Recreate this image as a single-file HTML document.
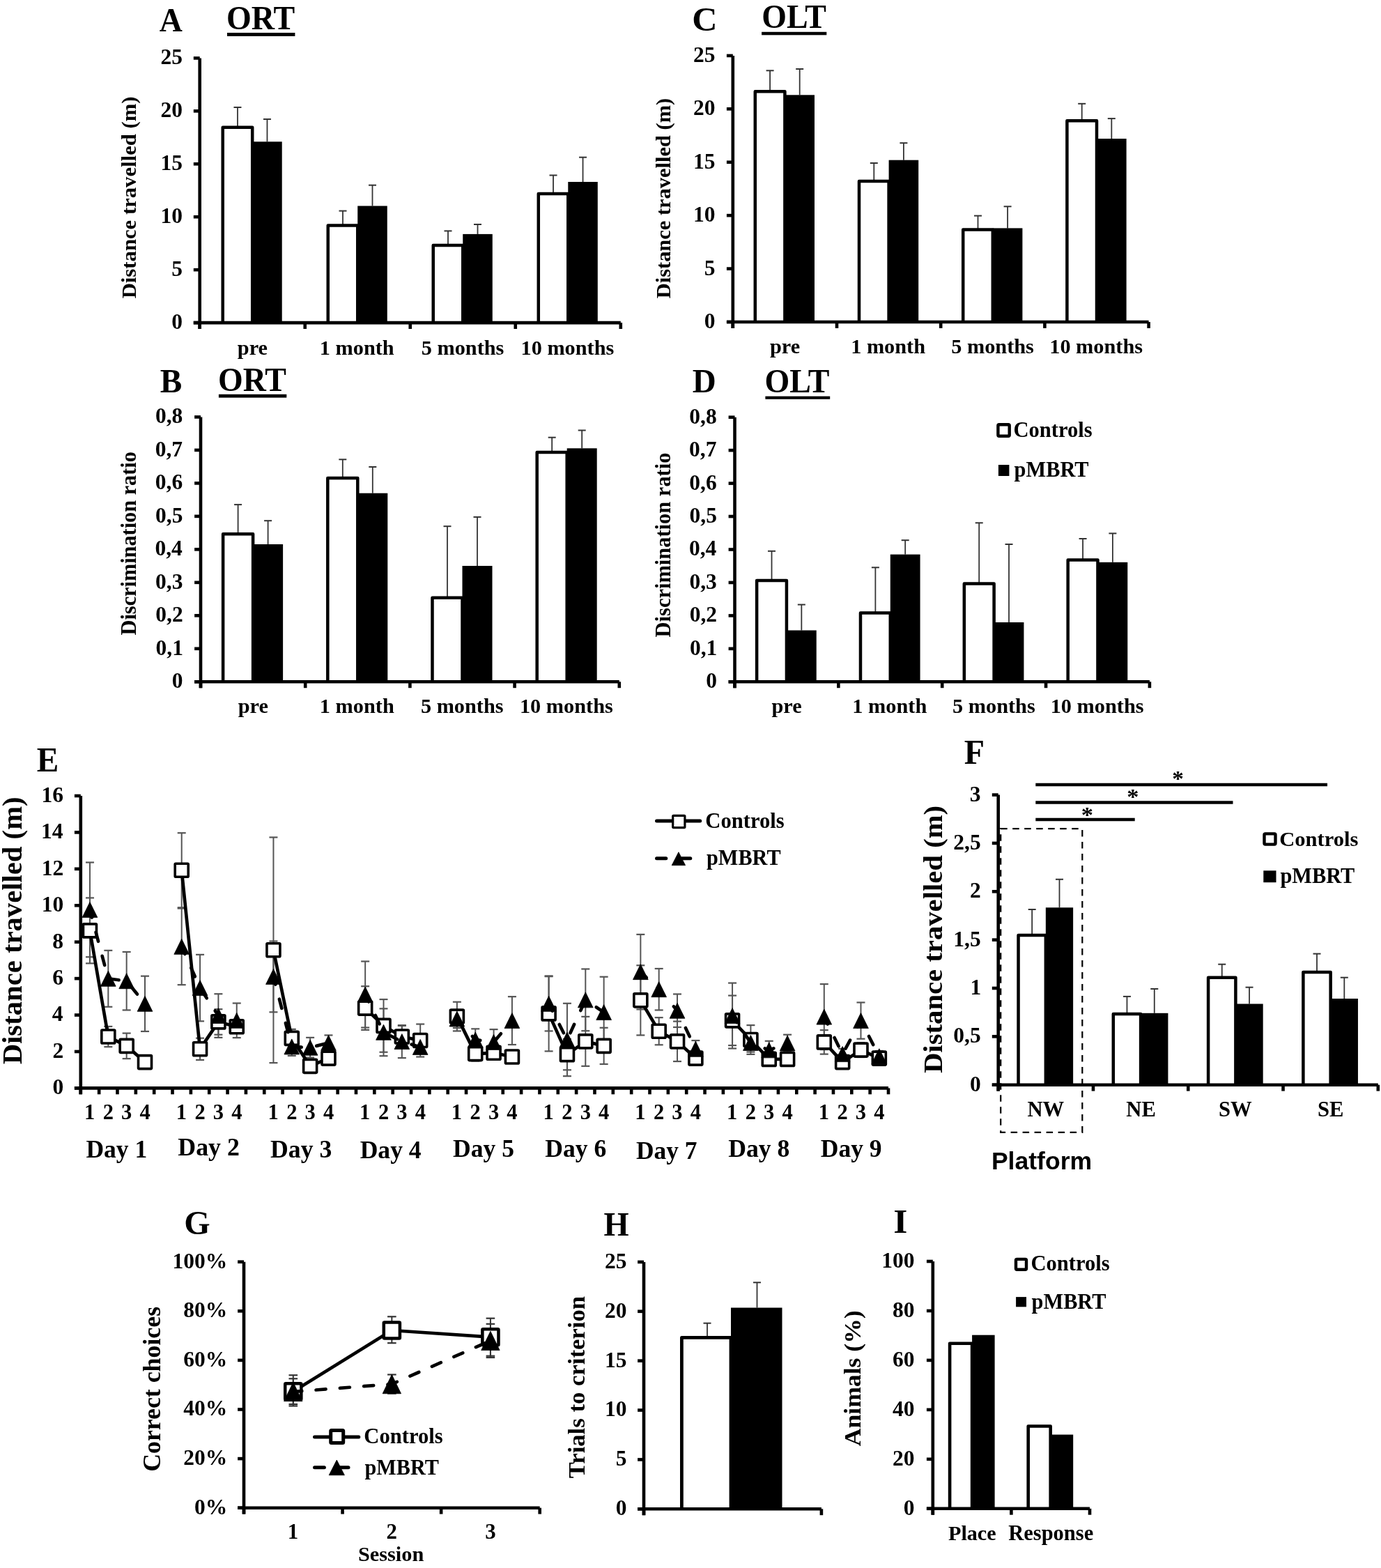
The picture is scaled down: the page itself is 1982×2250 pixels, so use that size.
<!DOCTYPE html>
<html><head><meta charset="utf-8"><title>Figure</title><style>
html,body{margin:0;padding:0;background:#fff;}
svg{display:block;}
text{font-weight:bold;fill:#000;}
</style></head><body>
<svg width="1982" height="2250" viewBox="0 0 1982 2250">
<rect width="1982" height="2250" fill="#fff"/>
<text transform="translate(228.74,44.8) scale(1,1.0781)" font-size="45.82" font-family='"Liberation Serif",serif'>A</text>
<text transform="translate(325,42.32) scale(1,1.0463)" font-size="46.05" font-family='"Liberation Serif",serif'>ORT</text>
<rect x="326" y="47" width="97.4" height="4.9" fill="#000"/>
<text transform="translate(194.63,428.34) rotate(-90) scale(1,0.9755)" font-size="30.72" font-family='"Liberation Serif",serif'>Distance travelled (m)</text>
<line x1="340.96" y1="154" x2="340.96" y2="182.8" stroke="#333" stroke-width="1.8" stroke-linecap="butt" />
<line x1="335.46" y1="154" x2="346.46" y2="154" stroke="#333" stroke-width="2" stroke-linecap="butt" />
<line x1="383.46" y1="171" x2="383.46" y2="203.3" stroke="#333" stroke-width="1.8" stroke-linecap="butt" />
<line x1="377.96" y1="171" x2="388.96" y2="171" stroke="#333" stroke-width="2" stroke-linecap="butt" />
<rect x="362.21" y="203.3" width="42.5" height="259.8" fill="#000"/>
<path d="M319.71,463.1 V182.8 H362.21 V463.1" fill="#fff" stroke="#000" stroke-width="4.5" stroke-linejoin="round"/>
<line x1="491.99" y1="302.6" x2="491.99" y2="323.4" stroke="#333" stroke-width="1.8" stroke-linecap="butt" />
<line x1="486.49" y1="302.6" x2="497.49" y2="302.6" stroke="#333" stroke-width="2" stroke-linecap="butt" />
<line x1="534.49" y1="265.7" x2="534.49" y2="295.5" stroke="#333" stroke-width="1.8" stroke-linecap="butt" />
<line x1="528.99" y1="265.7" x2="539.99" y2="265.7" stroke="#333" stroke-width="2" stroke-linecap="butt" />
<rect x="513.24" y="295.5" width="42.5" height="167.6" fill="#000"/>
<path d="M470.74,463.1 V323.4 H513.24 V463.1" fill="#fff" stroke="#000" stroke-width="4.5" stroke-linejoin="round"/>
<line x1="643.01" y1="331.4" x2="643.01" y2="351.9" stroke="#333" stroke-width="1.8" stroke-linecap="butt" />
<line x1="637.51" y1="331.4" x2="648.51" y2="331.4" stroke="#333" stroke-width="2" stroke-linecap="butt" />
<line x1="685.51" y1="322" x2="685.51" y2="335.9" stroke="#333" stroke-width="1.8" stroke-linecap="butt" />
<line x1="680.01" y1="322" x2="691.01" y2="322" stroke="#333" stroke-width="2" stroke-linecap="butt" />
<rect x="664.26" y="335.9" width="42.5" height="127.2" fill="#000"/>
<path d="M621.76,463.1 V351.9 H664.26 V463.1" fill="#fff" stroke="#000" stroke-width="4.5" stroke-linejoin="round"/>
<line x1="794.04" y1="251.5" x2="794.04" y2="278" stroke="#333" stroke-width="1.8" stroke-linecap="butt" />
<line x1="788.54" y1="251.5" x2="799.54" y2="251.5" stroke="#333" stroke-width="2" stroke-linecap="butt" />
<line x1="836.54" y1="225.7" x2="836.54" y2="261" stroke="#333" stroke-width="1.8" stroke-linecap="butt" />
<line x1="831.04" y1="225.7" x2="842.04" y2="225.7" stroke="#333" stroke-width="2" stroke-linecap="butt" />
<rect x="815.29" y="261" width="42.5" height="202.1" fill="#000"/>
<path d="M772.79,463.1 V278 H815.29 V463.1" fill="#fff" stroke="#000" stroke-width="4.5" stroke-linejoin="round"/>
<path d="M286.7,83.4 V472" stroke="#000" stroke-width="4.6" fill="none"/>
<line x1="277.8" y1="463.1" x2="286.7" y2="463.1" stroke="#000" stroke-width="4.6" stroke-linecap="butt" />
<line x1="277.8" y1="387.16" x2="286.7" y2="387.16" stroke="#000" stroke-width="4.6" stroke-linecap="butt" />
<line x1="277.8" y1="311.22" x2="286.7" y2="311.22" stroke="#000" stroke-width="4.6" stroke-linecap="butt" />
<line x1="277.8" y1="235.28" x2="286.7" y2="235.28" stroke="#000" stroke-width="4.6" stroke-linecap="butt" />
<line x1="277.8" y1="159.34" x2="286.7" y2="159.34" stroke="#000" stroke-width="4.6" stroke-linecap="butt" />
<line x1="277.8" y1="83.4" x2="286.7" y2="83.4" stroke="#000" stroke-width="4.6" stroke-linecap="butt" />
<line x1="277.8" y1="463.1" x2="890.8" y2="463.1" stroke="#000" stroke-width="4.6" stroke-linecap="butt" />
<line x1="286.7" y1="463.1" x2="286.7" y2="472" stroke="#000" stroke-width="4.6" stroke-linecap="butt" />
<line x1="437.72" y1="463.1" x2="437.72" y2="472" stroke="#000" stroke-width="4.6" stroke-linecap="butt" />
<line x1="588.75" y1="463.1" x2="588.75" y2="472" stroke="#000" stroke-width="4.6" stroke-linecap="butt" />
<line x1="739.77" y1="463.1" x2="739.77" y2="472" stroke="#000" stroke-width="4.6" stroke-linecap="butt" />
<line x1="890.8" y1="463.1" x2="890.8" y2="472" stroke="#000" stroke-width="4.6" stroke-linecap="butt" />
<text x="246.23" y="472.03" font-size="31.5" font-family='"Liberation Serif",serif'>0</text>
<text x="246.23" y="396.09" font-size="31.5" font-family='"Liberation Serif",serif'>5</text>
<text x="230.48" y="320.15" font-size="31.5" font-family='"Liberation Serif",serif'>10</text>
<text x="230.48" y="244.21" font-size="31.5" font-family='"Liberation Serif",serif'>15</text>
<text x="230.48" y="168.27" font-size="31.5" font-family='"Liberation Serif",serif'>20</text>
<text x="230.48" y="92.33" font-size="31.5" font-family='"Liberation Serif",serif'>25</text>
<text x="340.81" y="509" font-size="30.3" font-family='"Liberation Serif",serif'>pre</text>
<text x="458.81" y="509" font-size="30.3" font-family='"Liberation Serif",serif'>1 month</text>
<text x="604.69" y="509" font-size="30.3" font-family='"Liberation Serif",serif'>5 months</text>
<text x="747.53" y="509" font-size="30.3" font-family='"Liberation Serif",serif'>10 months</text>
<text transform="translate(993.19,44.32) scale(1,0.9647)" font-size="50.25" font-family='"Liberation Serif",serif'>C</text>
<text transform="translate(1093.31,40.42) scale(1,1.0403)" font-size="45.88" font-family='"Liberation Serif",serif'>OLT</text>
<rect x="1093.1" y="45.8" width="93.2" height="4.5" fill="#000"/>
<text transform="translate(961.85,428.33) rotate(-90) scale(1,0.9653)" font-size="30.48" font-family='"Liberation Serif",serif'>Distance travelled (m)</text>
<line x1="1105.1" y1="101.3" x2="1105.1" y2="131.3" stroke="#333" stroke-width="1.8" stroke-linecap="butt" />
<line x1="1099.6" y1="101.3" x2="1110.6" y2="101.3" stroke="#333" stroke-width="2" stroke-linecap="butt" />
<line x1="1147.7" y1="99" x2="1147.7" y2="136.3" stroke="#333" stroke-width="1.8" stroke-linecap="butt" />
<line x1="1142.2" y1="99" x2="1153.2" y2="99" stroke="#333" stroke-width="2" stroke-linecap="butt" />
<rect x="1126.4" y="136.3" width="42.6" height="325.7" fill="#000"/>
<path d="M1083.8,462 V131.3 H1126.4 V462" fill="#fff" stroke="#000" stroke-width="4.5" stroke-linejoin="round"/>
<line x1="1254.3" y1="234" x2="1254.3" y2="259.9" stroke="#333" stroke-width="1.8" stroke-linecap="butt" />
<line x1="1248.8" y1="234" x2="1259.8" y2="234" stroke="#333" stroke-width="2" stroke-linecap="butt" />
<line x1="1296.9" y1="205.2" x2="1296.9" y2="229.7" stroke="#333" stroke-width="1.8" stroke-linecap="butt" />
<line x1="1291.4" y1="205.2" x2="1302.4" y2="205.2" stroke="#333" stroke-width="2" stroke-linecap="butt" />
<rect x="1275.6" y="229.7" width="42.6" height="232.3" fill="#000"/>
<path d="M1233,462 V259.9 H1275.6 V462" fill="#fff" stroke="#000" stroke-width="4.5" stroke-linejoin="round"/>
<line x1="1403.5" y1="309.6" x2="1403.5" y2="329.6" stroke="#333" stroke-width="1.8" stroke-linecap="butt" />
<line x1="1398" y1="309.6" x2="1409" y2="309.6" stroke="#333" stroke-width="2" stroke-linecap="butt" />
<line x1="1446.1" y1="296.3" x2="1446.1" y2="327.4" stroke="#333" stroke-width="1.8" stroke-linecap="butt" />
<line x1="1440.6" y1="296.3" x2="1451.6" y2="296.3" stroke="#333" stroke-width="2" stroke-linecap="butt" />
<rect x="1424.8" y="327.4" width="42.6" height="134.6" fill="#000"/>
<path d="M1382.2,462 V329.6 H1424.8 V462" fill="#fff" stroke="#000" stroke-width="4.5" stroke-linejoin="round"/>
<line x1="1552.7" y1="148.8" x2="1552.7" y2="173.3" stroke="#333" stroke-width="1.8" stroke-linecap="butt" />
<line x1="1547.2" y1="148.8" x2="1558.2" y2="148.8" stroke="#333" stroke-width="2" stroke-linecap="butt" />
<line x1="1595.3" y1="170.1" x2="1595.3" y2="199" stroke="#333" stroke-width="1.8" stroke-linecap="butt" />
<line x1="1589.8" y1="170.1" x2="1600.8" y2="170.1" stroke="#333" stroke-width="2" stroke-linecap="butt" />
<rect x="1574" y="199" width="42.6" height="263" fill="#000"/>
<path d="M1531.4,462 V173.3 H1574 V462" fill="#fff" stroke="#000" stroke-width="4.5" stroke-linejoin="round"/>
<path d="M1051.8,79.9 V470.9" stroke="#000" stroke-width="4.6" fill="none"/>
<line x1="1042.9" y1="462" x2="1051.8" y2="462" stroke="#000" stroke-width="4.6" stroke-linecap="butt" />
<line x1="1042.9" y1="385.58" x2="1051.8" y2="385.58" stroke="#000" stroke-width="4.6" stroke-linecap="butt" />
<line x1="1042.9" y1="309.16" x2="1051.8" y2="309.16" stroke="#000" stroke-width="4.6" stroke-linecap="butt" />
<line x1="1042.9" y1="232.74" x2="1051.8" y2="232.74" stroke="#000" stroke-width="4.6" stroke-linecap="butt" />
<line x1="1042.9" y1="156.32" x2="1051.8" y2="156.32" stroke="#000" stroke-width="4.6" stroke-linecap="butt" />
<line x1="1042.9" y1="79.9" x2="1051.8" y2="79.9" stroke="#000" stroke-width="4.6" stroke-linecap="butt" />
<line x1="1042.9" y1="462" x2="1648.6" y2="462" stroke="#000" stroke-width="4.6" stroke-linecap="butt" />
<line x1="1051.8" y1="462" x2="1051.8" y2="470.9" stroke="#000" stroke-width="4.6" stroke-linecap="butt" />
<line x1="1201" y1="462" x2="1201" y2="470.9" stroke="#000" stroke-width="4.6" stroke-linecap="butt" />
<line x1="1350.2" y1="462" x2="1350.2" y2="470.9" stroke="#000" stroke-width="4.6" stroke-linecap="butt" />
<line x1="1499.4" y1="462" x2="1499.4" y2="470.9" stroke="#000" stroke-width="4.6" stroke-linecap="butt" />
<line x1="1648.6" y1="462" x2="1648.6" y2="470.9" stroke="#000" stroke-width="4.6" stroke-linecap="butt" />
<text x="1010.73" y="470.93" font-size="31.5" font-family='"Liberation Serif",serif'>0</text>
<text x="1010.73" y="394.51" font-size="31.5" font-family='"Liberation Serif",serif'>5</text>
<text x="994.98" y="318.09" font-size="31.5" font-family='"Liberation Serif",serif'>10</text>
<text x="994.98" y="241.67" font-size="31.5" font-family='"Liberation Serif",serif'>15</text>
<text x="994.98" y="165.25" font-size="31.5" font-family='"Liberation Serif",serif'>20</text>
<text x="994.98" y="88.83" font-size="31.5" font-family='"Liberation Serif",serif'>25</text>
<text x="1105" y="507" font-size="30.3" font-family='"Liberation Serif",serif'>pre</text>
<text x="1221.17" y="507" font-size="30.3" font-family='"Liberation Serif",serif'>1 month</text>
<text x="1365.22" y="507" font-size="30.3" font-family='"Liberation Serif",serif'>5 months</text>
<text x="1506.24" y="507" font-size="30.3" font-family='"Liberation Serif",serif'>10 months</text>
<text transform="translate(229.77,563.18) scale(1,1.0369)" font-size="47.23" font-family='"Liberation Serif",serif'>B</text>
<text transform="translate(313,560.82) scale(1,1.0561)" font-size="45.9" font-family='"Liberation Serif",serif'>ORT</text>
<rect x="313.9" y="565.8" width="97.4" height="4.8" fill="#000"/>
<text transform="translate(194.88,911.43) rotate(-90) scale(1,1.0623)" font-size="30.31" font-family='"Liberation Serif",serif'>Discrimination ratio</text>
<line x1="341.6" y1="724.1" x2="341.6" y2="766.3" stroke="#333" stroke-width="1.8" stroke-linecap="butt" />
<line x1="336.1" y1="724.1" x2="347.1" y2="724.1" stroke="#333" stroke-width="2" stroke-linecap="butt" />
<line x1="384.6" y1="747.2" x2="384.6" y2="781" stroke="#333" stroke-width="1.8" stroke-linecap="butt" />
<line x1="379.1" y1="747.2" x2="390.1" y2="747.2" stroke="#333" stroke-width="2" stroke-linecap="butt" />
<rect x="363.1" y="781" width="43" height="197.3" fill="#000"/>
<path d="M320.1,978.3 V766.3 H363.1 V978.3" fill="#fff" stroke="#000" stroke-width="4.5" stroke-linejoin="round"/>
<line x1="491.8" y1="659.3" x2="491.8" y2="685.9" stroke="#333" stroke-width="1.8" stroke-linecap="butt" />
<line x1="486.3" y1="659.3" x2="497.3" y2="659.3" stroke="#333" stroke-width="2" stroke-linecap="butt" />
<line x1="534.8" y1="670" x2="534.8" y2="707.7" stroke="#333" stroke-width="1.8" stroke-linecap="butt" />
<line x1="529.3" y1="670" x2="540.3" y2="670" stroke="#333" stroke-width="2" stroke-linecap="butt" />
<rect x="513.3" y="707.7" width="43" height="270.6" fill="#000"/>
<path d="M470.3,978.3 V685.9 H513.3 V978.3" fill="#fff" stroke="#000" stroke-width="4.5" stroke-linejoin="round"/>
<line x1="642" y1="755.2" x2="642" y2="857.8" stroke="#333" stroke-width="1.8" stroke-linecap="butt" />
<line x1="636.5" y1="755.2" x2="647.5" y2="755.2" stroke="#333" stroke-width="2" stroke-linecap="butt" />
<line x1="685" y1="741.9" x2="685" y2="812" stroke="#333" stroke-width="1.8" stroke-linecap="butt" />
<line x1="679.5" y1="741.9" x2="690.5" y2="741.9" stroke="#333" stroke-width="2" stroke-linecap="butt" />
<rect x="663.5" y="812" width="43" height="166.3" fill="#000"/>
<path d="M620.5,978.3 V857.8 H663.5 V978.3" fill="#fff" stroke="#000" stroke-width="4.5" stroke-linejoin="round"/>
<line x1="792.2" y1="627.7" x2="792.2" y2="649" stroke="#333" stroke-width="1.8" stroke-linecap="butt" />
<line x1="786.7" y1="627.7" x2="797.7" y2="627.7" stroke="#333" stroke-width="2" stroke-linecap="butt" />
<line x1="835.2" y1="617.5" x2="835.2" y2="643.3" stroke="#333" stroke-width="1.8" stroke-linecap="butt" />
<line x1="829.7" y1="617.5" x2="840.7" y2="617.5" stroke="#333" stroke-width="2" stroke-linecap="butt" />
<rect x="813.7" y="643.3" width="43" height="335" fill="#000"/>
<path d="M770.7,978.3 V649 H813.7 V978.3" fill="#fff" stroke="#000" stroke-width="4.5" stroke-linejoin="round"/>
<path d="M288,598.4 V987.2" stroke="#000" stroke-width="4.6" fill="none"/>
<line x1="279.1" y1="978.3" x2="288" y2="978.3" stroke="#000" stroke-width="4.6" stroke-linecap="butt" />
<line x1="279.1" y1="930.81" x2="288" y2="930.81" stroke="#000" stroke-width="4.6" stroke-linecap="butt" />
<line x1="279.1" y1="883.32" x2="288" y2="883.32" stroke="#000" stroke-width="4.6" stroke-linecap="butt" />
<line x1="279.1" y1="835.84" x2="288" y2="835.84" stroke="#000" stroke-width="4.6" stroke-linecap="butt" />
<line x1="279.1" y1="788.35" x2="288" y2="788.35" stroke="#000" stroke-width="4.6" stroke-linecap="butt" />
<line x1="279.1" y1="740.86" x2="288" y2="740.86" stroke="#000" stroke-width="4.6" stroke-linecap="butt" />
<line x1="279.1" y1="693.38" x2="288" y2="693.38" stroke="#000" stroke-width="4.6" stroke-linecap="butt" />
<line x1="279.1" y1="645.89" x2="288" y2="645.89" stroke="#000" stroke-width="4.6" stroke-linecap="butt" />
<line x1="279.1" y1="598.4" x2="288" y2="598.4" stroke="#000" stroke-width="4.6" stroke-linecap="butt" />
<line x1="279.1" y1="978.3" x2="888.8" y2="978.3" stroke="#000" stroke-width="4.6" stroke-linecap="butt" />
<line x1="288" y1="978.3" x2="288" y2="987.2" stroke="#000" stroke-width="4.6" stroke-linecap="butt" />
<line x1="438.2" y1="978.3" x2="438.2" y2="987.2" stroke="#000" stroke-width="4.6" stroke-linecap="butt" />
<line x1="588.4" y1="978.3" x2="588.4" y2="987.2" stroke="#000" stroke-width="4.6" stroke-linecap="butt" />
<line x1="738.6" y1="978.3" x2="738.6" y2="987.2" stroke="#000" stroke-width="4.6" stroke-linecap="butt" />
<line x1="888.8" y1="978.3" x2="888.8" y2="987.2" stroke="#000" stroke-width="4.6" stroke-linecap="butt" />
<text x="246.73" y="987.23" font-size="31.5" font-family='"Liberation Serif",serif'>0</text>
<text x="223.58" y="939.75" font-size="31.5" font-family='"Liberation Serif",serif'>0,1</text>
<text x="223.26" y="892.26" font-size="31.5" font-family='"Liberation Serif",serif'>0,2</text>
<text x="223.03" y="844.77" font-size="31.5" font-family='"Liberation Serif",serif'>0,3</text>
<text x="222.48" y="797.28" font-size="31.5" font-family='"Liberation Serif",serif'>0,4</text>
<text x="223.11" y="749.8" font-size="31.5" font-family='"Liberation Serif",serif'>0,5</text>
<text x="222.87" y="702.31" font-size="31.5" font-family='"Liberation Serif",serif'>0,6</text>
<text x="222.71" y="654.82" font-size="31.5" font-family='"Liberation Serif",serif'>0,7</text>
<text x="222.95" y="607.33" font-size="31.5" font-family='"Liberation Serif",serif'>0,8</text>
<text x="341.7" y="1023.4" font-size="30.3" font-family='"Liberation Serif",serif'>pre</text>
<text x="458.87" y="1023.4" font-size="30.3" font-family='"Liberation Serif",serif'>1 month</text>
<text x="603.92" y="1023.4" font-size="30.3" font-family='"Liberation Serif",serif'>5 months</text>
<text x="745.94" y="1023.4" font-size="30.3" font-family='"Liberation Serif",serif'>10 months</text>
<text transform="translate(993.68,563.28) scale(1,1.0285)" font-size="47.02" font-family='"Liberation Serif",serif'>D</text>
<text transform="translate(1097.5,562.92) scale(1,1.0424)" font-size="45.93" font-family='"Liberation Serif",serif'>OLT</text>
<rect x="1098.4" y="568.6" width="92.8" height="4.2" fill="#000"/>
<text transform="translate(962.49,914.43) rotate(-90) scale(1,1.0233)" font-size="30.49" font-family='"Liberation Serif",serif'>Discrimination ratio</text>
<line x1="1107.52" y1="790.8" x2="1107.52" y2="833" stroke="#333" stroke-width="1.8" stroke-linecap="butt" />
<line x1="1102.02" y1="790.8" x2="1113.02" y2="790.8" stroke="#333" stroke-width="2" stroke-linecap="butt" />
<line x1="1150.33" y1="867.6" x2="1150.33" y2="904.5" stroke="#333" stroke-width="1.8" stroke-linecap="butt" />
<line x1="1144.83" y1="867.6" x2="1155.83" y2="867.6" stroke="#333" stroke-width="2" stroke-linecap="butt" />
<rect x="1128.92" y="904.5" width="42.8" height="73.8" fill="#000"/>
<path d="M1086.12,978.3 V833 H1128.92 V978.3" fill="#fff" stroke="#000" stroke-width="4.5" stroke-linejoin="round"/>
<line x1="1256.38" y1="814.3" x2="1256.38" y2="879.6" stroke="#333" stroke-width="1.8" stroke-linecap="butt" />
<line x1="1250.88" y1="814.3" x2="1261.88" y2="814.3" stroke="#333" stroke-width="2" stroke-linecap="butt" />
<line x1="1299.18" y1="775.2" x2="1299.18" y2="795.6" stroke="#333" stroke-width="1.8" stroke-linecap="butt" />
<line x1="1293.68" y1="775.2" x2="1304.68" y2="775.2" stroke="#333" stroke-width="2" stroke-linecap="butt" />
<rect x="1277.78" y="795.6" width="42.8" height="182.7" fill="#000"/>
<path d="M1234.98,978.3 V879.6 H1277.78 V978.3" fill="#fff" stroke="#000" stroke-width="4.5" stroke-linejoin="round"/>
<line x1="1405.22" y1="750.3" x2="1405.22" y2="837.4" stroke="#333" stroke-width="1.8" stroke-linecap="butt" />
<line x1="1399.72" y1="750.3" x2="1410.72" y2="750.3" stroke="#333" stroke-width="2" stroke-linecap="butt" />
<line x1="1448.03" y1="781" x2="1448.03" y2="893" stroke="#333" stroke-width="1.8" stroke-linecap="butt" />
<line x1="1442.53" y1="781" x2="1453.53" y2="781" stroke="#333" stroke-width="2" stroke-linecap="butt" />
<rect x="1426.62" y="893" width="42.8" height="85.3" fill="#000"/>
<path d="M1383.83,978.3 V837.4 H1426.62 V978.3" fill="#fff" stroke="#000" stroke-width="4.5" stroke-linejoin="round"/>
<line x1="1554.08" y1="773" x2="1554.08" y2="803.6" stroke="#333" stroke-width="1.8" stroke-linecap="butt" />
<line x1="1548.58" y1="773" x2="1559.58" y2="773" stroke="#333" stroke-width="2" stroke-linecap="butt" />
<line x1="1596.88" y1="765.4" x2="1596.88" y2="806.8" stroke="#333" stroke-width="1.8" stroke-linecap="butt" />
<line x1="1591.38" y1="765.4" x2="1602.38" y2="765.4" stroke="#333" stroke-width="2" stroke-linecap="butt" />
<rect x="1575.48" y="806.8" width="42.8" height="171.5" fill="#000"/>
<path d="M1532.68,978.3 V803.6 H1575.48 V978.3" fill="#fff" stroke="#000" stroke-width="4.5" stroke-linejoin="round"/>
<path d="M1054.5,598.7 V987.2" stroke="#000" stroke-width="4.6" fill="none"/>
<line x1="1045.6" y1="978.3" x2="1054.5" y2="978.3" stroke="#000" stroke-width="4.6" stroke-linecap="butt" />
<line x1="1045.6" y1="930.85" x2="1054.5" y2="930.85" stroke="#000" stroke-width="4.6" stroke-linecap="butt" />
<line x1="1045.6" y1="883.4" x2="1054.5" y2="883.4" stroke="#000" stroke-width="4.6" stroke-linecap="butt" />
<line x1="1045.6" y1="835.95" x2="1054.5" y2="835.95" stroke="#000" stroke-width="4.6" stroke-linecap="butt" />
<line x1="1045.6" y1="788.5" x2="1054.5" y2="788.5" stroke="#000" stroke-width="4.6" stroke-linecap="butt" />
<line x1="1045.6" y1="741.05" x2="1054.5" y2="741.05" stroke="#000" stroke-width="4.6" stroke-linecap="butt" />
<line x1="1045.6" y1="693.6" x2="1054.5" y2="693.6" stroke="#000" stroke-width="4.6" stroke-linecap="butt" />
<line x1="1045.6" y1="646.15" x2="1054.5" y2="646.15" stroke="#000" stroke-width="4.6" stroke-linecap="butt" />
<line x1="1045.6" y1="598.7" x2="1054.5" y2="598.7" stroke="#000" stroke-width="4.6" stroke-linecap="butt" />
<line x1="1045.6" y1="978.3" x2="1649.9" y2="978.3" stroke="#000" stroke-width="4.6" stroke-linecap="butt" />
<line x1="1054.5" y1="978.3" x2="1054.5" y2="987.2" stroke="#000" stroke-width="4.6" stroke-linecap="butt" />
<line x1="1203.35" y1="978.3" x2="1203.35" y2="987.2" stroke="#000" stroke-width="4.6" stroke-linecap="butt" />
<line x1="1352.2" y1="978.3" x2="1352.2" y2="987.2" stroke="#000" stroke-width="4.6" stroke-linecap="butt" />
<line x1="1501.05" y1="978.3" x2="1501.05" y2="987.2" stroke="#000" stroke-width="4.6" stroke-linecap="butt" />
<line x1="1649.9" y1="978.3" x2="1649.9" y2="987.2" stroke="#000" stroke-width="4.6" stroke-linecap="butt" />
<text x="1013.13" y="987.23" font-size="31.5" font-family='"Liberation Serif",serif'>0</text>
<text x="989.98" y="939.78" font-size="31.5" font-family='"Liberation Serif",serif'>0,1</text>
<text x="989.66" y="892.33" font-size="31.5" font-family='"Liberation Serif",serif'>0,2</text>
<text x="989.43" y="844.88" font-size="31.5" font-family='"Liberation Serif",serif'>0,3</text>
<text x="988.88" y="797.43" font-size="31.5" font-family='"Liberation Serif",serif'>0,4</text>
<text x="989.51" y="749.98" font-size="31.5" font-family='"Liberation Serif",serif'>0,5</text>
<text x="989.27" y="702.53" font-size="31.5" font-family='"Liberation Serif",serif'>0,6</text>
<text x="989.11" y="655.08" font-size="31.5" font-family='"Liberation Serif",serif'>0,7</text>
<text x="989.35" y="607.63" font-size="31.5" font-family='"Liberation Serif",serif'>0,8</text>
<text x="1107.53" y="1023.3" font-size="30.3" font-family='"Liberation Serif",serif'>pre</text>
<text x="1223.35" y="1023.3" font-size="30.3" font-family='"Liberation Serif",serif'>1 month</text>
<text x="1367.05" y="1023.3" font-size="30.3" font-family='"Liberation Serif",serif'>5 months</text>
<text x="1507.72" y="1023.3" font-size="30.3" font-family='"Liberation Serif",serif'>10 months</text>
<rect x="1432.4" y="609.2" width="16.3" height="16.5" rx="1.5" fill="#fff" stroke="#000" stroke-width="4.4"/>
<rect x="1432.9" y="667" width="15.5" height="16" fill="#000"/>
<text x="1454.47" y="626.9" font-size="30.58" font-family='"Liberation Serif",serif'>Controls</text>
<text transform="translate(1455.62,683.68) scale(1,1.0199)" font-size="30.36" font-family='"Liberation Serif",serif'>pMBRT</text>
<text transform="translate(52.77,1106.7) scale(1,1.0513)" font-size="47.2" font-family='"Liberation Serif",serif'>E</text>
<text transform="translate(30.62,1527.31) rotate(-90) scale(1,0.9697)" font-size="40.68" font-family='"Liberation Serif",serif'>Distance travelled (m)</text>
<line x1="128.97" y1="1288.42" x2="128.97" y2="1382.38" stroke="#555" stroke-width="2" stroke-linecap="butt" />
<line x1="122.97" y1="1288.42" x2="134.97" y2="1288.42" stroke="#555" stroke-width="2.2" stroke-linecap="butt" />
<line x1="122.97" y1="1382.38" x2="134.97" y2="1382.38" stroke="#555" stroke-width="2.2" stroke-linecap="butt" />
<line x1="128.97" y1="1237.52" x2="128.97" y2="1373.24" stroke="#555" stroke-width="2" stroke-linecap="butt" />
<line x1="122.97" y1="1237.52" x2="134.97" y2="1237.52" stroke="#555" stroke-width="2.2" stroke-linecap="butt" />
<line x1="122.97" y1="1373.24" x2="134.97" y2="1373.24" stroke="#555" stroke-width="2.2" stroke-linecap="butt" />
<line x1="155.32" y1="1472.94" x2="155.32" y2="1502.18" stroke="#555" stroke-width="2" stroke-linecap="butt" />
<line x1="149.32" y1="1472.94" x2="161.32" y2="1472.94" stroke="#555" stroke-width="2.2" stroke-linecap="butt" />
<line x1="149.32" y1="1502.18" x2="161.32" y2="1502.18" stroke="#555" stroke-width="2.2" stroke-linecap="butt" />
<line x1="155.32" y1="1363.85" x2="155.32" y2="1444.76" stroke="#555" stroke-width="2" stroke-linecap="butt" />
<line x1="149.32" y1="1363.85" x2="161.32" y2="1363.85" stroke="#555" stroke-width="2.2" stroke-linecap="butt" />
<line x1="149.32" y1="1444.76" x2="161.32" y2="1444.76" stroke="#555" stroke-width="2.2" stroke-linecap="butt" />
<line x1="181.66" y1="1482.6" x2="181.66" y2="1519.14" stroke="#555" stroke-width="2" stroke-linecap="butt" />
<line x1="175.66" y1="1482.6" x2="187.66" y2="1482.6" stroke="#555" stroke-width="2.2" stroke-linecap="butt" />
<line x1="175.66" y1="1519.14" x2="187.66" y2="1519.14" stroke="#555" stroke-width="2.2" stroke-linecap="butt" />
<line x1="181.66" y1="1365.93" x2="181.66" y2="1449.45" stroke="#555" stroke-width="2" stroke-linecap="butt" />
<line x1="175.66" y1="1365.93" x2="187.66" y2="1365.93" stroke="#555" stroke-width="2.2" stroke-linecap="butt" />
<line x1="175.66" y1="1449.45" x2="187.66" y2="1449.45" stroke="#555" stroke-width="2.2" stroke-linecap="butt" />
<line x1="208.01" y1="1521.49" x2="208.01" y2="1526.71" stroke="#555" stroke-width="2" stroke-linecap="butt" />
<line x1="202.01" y1="1521.49" x2="214.01" y2="1521.49" stroke="#555" stroke-width="2.2" stroke-linecap="butt" />
<line x1="202.01" y1="1526.71" x2="214.01" y2="1526.71" stroke="#555" stroke-width="2.2" stroke-linecap="butt" />
<line x1="208.01" y1="1400.65" x2="208.01" y2="1479.99" stroke="#555" stroke-width="2" stroke-linecap="butt" />
<line x1="202.01" y1="1400.65" x2="214.01" y2="1400.65" stroke="#555" stroke-width="2.2" stroke-linecap="butt" />
<line x1="202.01" y1="1479.99" x2="214.01" y2="1479.99" stroke="#555" stroke-width="2.2" stroke-linecap="butt" />
<line x1="260.7" y1="1195.24" x2="260.7" y2="1302.25" stroke="#555" stroke-width="2" stroke-linecap="butt" />
<line x1="254.7" y1="1195.24" x2="266.7" y2="1195.24" stroke="#555" stroke-width="2.2" stroke-linecap="butt" />
<line x1="254.7" y1="1302.25" x2="266.7" y2="1302.25" stroke="#555" stroke-width="2.2" stroke-linecap="butt" />
<line x1="260.7" y1="1303.55" x2="260.7" y2="1413.17" stroke="#555" stroke-width="2" stroke-linecap="butt" />
<line x1="254.7" y1="1303.55" x2="266.7" y2="1303.55" stroke="#555" stroke-width="2.2" stroke-linecap="butt" />
<line x1="254.7" y1="1413.17" x2="266.7" y2="1413.17" stroke="#555" stroke-width="2.2" stroke-linecap="butt" />
<line x1="287.05" y1="1489.65" x2="287.05" y2="1520.97" stroke="#555" stroke-width="2" stroke-linecap="butt" />
<line x1="281.05" y1="1489.65" x2="293.05" y2="1489.65" stroke="#555" stroke-width="2.2" stroke-linecap="butt" />
<line x1="281.05" y1="1520.97" x2="293.05" y2="1520.97" stroke="#555" stroke-width="2.2" stroke-linecap="butt" />
<line x1="287.05" y1="1369.85" x2="287.05" y2="1465.37" stroke="#555" stroke-width="2" stroke-linecap="butt" />
<line x1="281.05" y1="1369.85" x2="293.05" y2="1369.85" stroke="#555" stroke-width="2.2" stroke-linecap="butt" />
<line x1="281.05" y1="1465.37" x2="293.05" y2="1465.37" stroke="#555" stroke-width="2.2" stroke-linecap="butt" />
<line x1="313.39" y1="1448.15" x2="313.39" y2="1484.69" stroke="#555" stroke-width="2" stroke-linecap="butt" />
<line x1="307.39" y1="1448.15" x2="319.39" y2="1448.15" stroke="#555" stroke-width="2.2" stroke-linecap="butt" />
<line x1="307.39" y1="1484.69" x2="319.39" y2="1484.69" stroke="#555" stroke-width="2.2" stroke-linecap="butt" />
<line x1="313.39" y1="1426.22" x2="313.39" y2="1488.86" stroke="#555" stroke-width="2" stroke-linecap="butt" />
<line x1="307.39" y1="1426.22" x2="319.39" y2="1426.22" stroke="#555" stroke-width="2.2" stroke-linecap="butt" />
<line x1="307.39" y1="1488.86" x2="319.39" y2="1488.86" stroke="#555" stroke-width="2.2" stroke-linecap="butt" />
<line x1="339.74" y1="1465.37" x2="339.74" y2="1481.03" stroke="#555" stroke-width="2" stroke-linecap="butt" />
<line x1="333.74" y1="1465.37" x2="345.74" y2="1465.37" stroke="#555" stroke-width="2.2" stroke-linecap="butt" />
<line x1="333.74" y1="1481.03" x2="345.74" y2="1481.03" stroke="#555" stroke-width="2.2" stroke-linecap="butt" />
<line x1="339.74" y1="1439.54" x2="339.74" y2="1489.12" stroke="#555" stroke-width="2" stroke-linecap="butt" />
<line x1="333.74" y1="1439.54" x2="345.74" y2="1439.54" stroke="#555" stroke-width="2.2" stroke-linecap="butt" />
<line x1="333.74" y1="1489.12" x2="345.74" y2="1489.12" stroke="#555" stroke-width="2.2" stroke-linecap="butt" />
<line x1="392.43" y1="1201.5" x2="392.43" y2="1525.14" stroke="#555" stroke-width="2" stroke-linecap="butt" />
<line x1="386.43" y1="1201.5" x2="398.43" y2="1201.5" stroke="#555" stroke-width="2.2" stroke-linecap="butt" />
<line x1="386.43" y1="1525.14" x2="398.43" y2="1525.14" stroke="#555" stroke-width="2.2" stroke-linecap="butt" />
<line x1="392.43" y1="1350.53" x2="392.43" y2="1452.32" stroke="#555" stroke-width="2" stroke-linecap="butt" />
<line x1="386.43" y1="1350.53" x2="398.43" y2="1350.53" stroke="#555" stroke-width="2.2" stroke-linecap="butt" />
<line x1="386.43" y1="1452.32" x2="398.43" y2="1452.32" stroke="#555" stroke-width="2.2" stroke-linecap="butt" />
<line x1="418.77" y1="1476.86" x2="418.77" y2="1502.96" stroke="#555" stroke-width="2" stroke-linecap="butt" />
<line x1="412.77" y1="1476.86" x2="424.77" y2="1476.86" stroke="#555" stroke-width="2.2" stroke-linecap="butt" />
<line x1="412.77" y1="1502.96" x2="424.77" y2="1502.96" stroke="#555" stroke-width="2.2" stroke-linecap="butt" />
<line x1="418.77" y1="1488.86" x2="418.77" y2="1514.96" stroke="#555" stroke-width="2" stroke-linecap="butt" />
<line x1="412.77" y1="1488.86" x2="424.77" y2="1488.86" stroke="#555" stroke-width="2.2" stroke-linecap="butt" />
<line x1="412.77" y1="1514.96" x2="424.77" y2="1514.96" stroke="#555" stroke-width="2.2" stroke-linecap="butt" />
<line x1="445.12" y1="1524.62" x2="445.12" y2="1535.06" stroke="#555" stroke-width="2" stroke-linecap="butt" />
<line x1="439.12" y1="1524.62" x2="451.12" y2="1524.62" stroke="#555" stroke-width="2.2" stroke-linecap="butt" />
<line x1="439.12" y1="1535.06" x2="451.12" y2="1535.06" stroke="#555" stroke-width="2.2" stroke-linecap="butt" />
<line x1="445.12" y1="1488.86" x2="445.12" y2="1517.57" stroke="#555" stroke-width="2" stroke-linecap="butt" />
<line x1="439.12" y1="1488.86" x2="451.12" y2="1488.86" stroke="#555" stroke-width="2.2" stroke-linecap="butt" />
<line x1="439.12" y1="1517.57" x2="451.12" y2="1517.57" stroke="#555" stroke-width="2.2" stroke-linecap="butt" />
<line x1="471.46" y1="1513.4" x2="471.46" y2="1523.84" stroke="#555" stroke-width="2" stroke-linecap="butt" />
<line x1="465.46" y1="1513.4" x2="477.46" y2="1513.4" stroke="#555" stroke-width="2.2" stroke-linecap="butt" />
<line x1="465.46" y1="1523.84" x2="477.46" y2="1523.84" stroke="#555" stroke-width="2.2" stroke-linecap="butt" />
<line x1="471.46" y1="1485.47" x2="471.46" y2="1507.39" stroke="#555" stroke-width="2" stroke-linecap="butt" />
<line x1="465.46" y1="1485.47" x2="477.46" y2="1485.47" stroke="#555" stroke-width="2.2" stroke-linecap="butt" />
<line x1="465.46" y1="1507.39" x2="477.46" y2="1507.39" stroke="#555" stroke-width="2.2" stroke-linecap="butt" />
<line x1="524.15" y1="1415.26" x2="524.15" y2="1477.9" stroke="#555" stroke-width="2" stroke-linecap="butt" />
<line x1="518.15" y1="1415.26" x2="530.15" y2="1415.26" stroke="#555" stroke-width="2.2" stroke-linecap="butt" />
<line x1="518.15" y1="1477.9" x2="530.15" y2="1477.9" stroke="#555" stroke-width="2.2" stroke-linecap="butt" />
<line x1="524.15" y1="1379.51" x2="524.15" y2="1474.51" stroke="#555" stroke-width="2" stroke-linecap="butt" />
<line x1="518.15" y1="1379.51" x2="530.15" y2="1379.51" stroke="#555" stroke-width="2.2" stroke-linecap="butt" />
<line x1="518.15" y1="1474.51" x2="530.15" y2="1474.51" stroke="#555" stroke-width="2.2" stroke-linecap="butt" />
<line x1="550.5" y1="1434.05" x2="550.5" y2="1509.74" stroke="#555" stroke-width="2" stroke-linecap="butt" />
<line x1="544.5" y1="1434.05" x2="556.5" y2="1434.05" stroke="#555" stroke-width="2.2" stroke-linecap="butt" />
<line x1="544.5" y1="1509.74" x2="556.5" y2="1509.74" stroke="#555" stroke-width="2.2" stroke-linecap="butt" />
<line x1="550.5" y1="1447.37" x2="550.5" y2="1515.23" stroke="#555" stroke-width="2" stroke-linecap="butt" />
<line x1="544.5" y1="1447.37" x2="556.5" y2="1447.37" stroke="#555" stroke-width="2.2" stroke-linecap="butt" />
<line x1="544.5" y1="1515.23" x2="556.5" y2="1515.23" stroke="#555" stroke-width="2.2" stroke-linecap="butt" />
<line x1="576.85" y1="1471.9" x2="576.85" y2="1503.22" stroke="#555" stroke-width="2" stroke-linecap="butt" />
<line x1="570.85" y1="1471.9" x2="582.85" y2="1471.9" stroke="#555" stroke-width="2.2" stroke-linecap="butt" />
<line x1="570.85" y1="1503.22" x2="582.85" y2="1503.22" stroke="#555" stroke-width="2.2" stroke-linecap="butt" />
<line x1="576.85" y1="1471.12" x2="576.85" y2="1518.1" stroke="#555" stroke-width="2" stroke-linecap="butt" />
<line x1="570.85" y1="1471.12" x2="582.85" y2="1471.12" stroke="#555" stroke-width="2.2" stroke-linecap="butt" />
<line x1="570.85" y1="1518.1" x2="582.85" y2="1518.1" stroke="#555" stroke-width="2.2" stroke-linecap="butt" />
<line x1="603.19" y1="1469.55" x2="603.19" y2="1516.53" stroke="#555" stroke-width="2" stroke-linecap="butt" />
<line x1="597.19" y1="1469.55" x2="609.19" y2="1469.55" stroke="#555" stroke-width="2.2" stroke-linecap="butt" />
<line x1="597.19" y1="1516.53" x2="609.19" y2="1516.53" stroke="#555" stroke-width="2.2" stroke-linecap="butt" />
<line x1="603.19" y1="1494.61" x2="603.19" y2="1510.27" stroke="#555" stroke-width="2" stroke-linecap="butt" />
<line x1="597.19" y1="1494.61" x2="609.19" y2="1494.61" stroke="#555" stroke-width="2.2" stroke-linecap="butt" />
<line x1="597.19" y1="1510.27" x2="609.19" y2="1510.27" stroke="#555" stroke-width="2.2" stroke-linecap="butt" />
<line x1="655.88" y1="1437.71" x2="655.88" y2="1479.47" stroke="#555" stroke-width="2" stroke-linecap="butt" />
<line x1="649.88" y1="1437.71" x2="661.88" y2="1437.71" stroke="#555" stroke-width="2.2" stroke-linecap="butt" />
<line x1="649.88" y1="1479.47" x2="661.88" y2="1479.47" stroke="#555" stroke-width="2.2" stroke-linecap="butt" />
<line x1="655.88" y1="1448.93" x2="655.88" y2="1475.03" stroke="#555" stroke-width="2" stroke-linecap="butt" />
<line x1="649.88" y1="1448.93" x2="661.88" y2="1448.93" stroke="#555" stroke-width="2.2" stroke-linecap="butt" />
<line x1="649.88" y1="1475.03" x2="661.88" y2="1475.03" stroke="#555" stroke-width="2.2" stroke-linecap="butt" />
<line x1="682.23" y1="1501.65" x2="682.23" y2="1522.53" stroke="#555" stroke-width="2" stroke-linecap="butt" />
<line x1="676.23" y1="1501.65" x2="688.23" y2="1501.65" stroke="#555" stroke-width="2.2" stroke-linecap="butt" />
<line x1="676.23" y1="1522.53" x2="688.23" y2="1522.53" stroke="#555" stroke-width="2.2" stroke-linecap="butt" />
<line x1="682.23" y1="1476.34" x2="682.23" y2="1507.66" stroke="#555" stroke-width="2" stroke-linecap="butt" />
<line x1="676.23" y1="1476.34" x2="688.23" y2="1476.34" stroke="#555" stroke-width="2.2" stroke-linecap="butt" />
<line x1="676.23" y1="1507.66" x2="688.23" y2="1507.66" stroke="#555" stroke-width="2.2" stroke-linecap="butt" />
<line x1="708.57" y1="1502.96" x2="708.57" y2="1518.62" stroke="#555" stroke-width="2" stroke-linecap="butt" />
<line x1="702.57" y1="1502.96" x2="714.57" y2="1502.96" stroke="#555" stroke-width="2.2" stroke-linecap="butt" />
<line x1="702.57" y1="1518.62" x2="714.57" y2="1518.62" stroke="#555" stroke-width="2.2" stroke-linecap="butt" />
<line x1="708.57" y1="1477.12" x2="708.57" y2="1513.66" stroke="#555" stroke-width="2" stroke-linecap="butt" />
<line x1="702.57" y1="1477.12" x2="714.57" y2="1477.12" stroke="#555" stroke-width="2.2" stroke-linecap="butt" />
<line x1="702.57" y1="1513.66" x2="714.57" y2="1513.66" stroke="#555" stroke-width="2.2" stroke-linecap="butt" />
<line x1="734.92" y1="1511.31" x2="734.92" y2="1521.75" stroke="#555" stroke-width="2" stroke-linecap="butt" />
<line x1="728.92" y1="1511.31" x2="740.92" y2="1511.31" stroke="#555" stroke-width="2.2" stroke-linecap="butt" />
<line x1="728.92" y1="1521.75" x2="740.92" y2="1521.75" stroke="#555" stroke-width="2.2" stroke-linecap="butt" />
<line x1="734.92" y1="1430.14" x2="734.92" y2="1499.04" stroke="#555" stroke-width="2" stroke-linecap="butt" />
<line x1="728.92" y1="1430.14" x2="740.92" y2="1430.14" stroke="#555" stroke-width="2.2" stroke-linecap="butt" />
<line x1="728.92" y1="1499.04" x2="740.92" y2="1499.04" stroke="#555" stroke-width="2.2" stroke-linecap="butt" />
<line x1="787.61" y1="1400.38" x2="787.61" y2="1508.44" stroke="#555" stroke-width="2" stroke-linecap="butt" />
<line x1="781.61" y1="1400.38" x2="793.61" y2="1400.38" stroke="#555" stroke-width="2.2" stroke-linecap="butt" />
<line x1="781.61" y1="1508.44" x2="793.61" y2="1508.44" stroke="#555" stroke-width="2.2" stroke-linecap="butt" />
<line x1="787.61" y1="1401.17" x2="787.61" y2="1479.47" stroke="#555" stroke-width="2" stroke-linecap="butt" />
<line x1="781.61" y1="1401.17" x2="793.61" y2="1401.17" stroke="#555" stroke-width="2.2" stroke-linecap="butt" />
<line x1="781.61" y1="1479.47" x2="793.61" y2="1479.47" stroke="#555" stroke-width="2.2" stroke-linecap="butt" />
<line x1="813.95" y1="1490.95" x2="813.95" y2="1535.32" stroke="#555" stroke-width="2" stroke-linecap="butt" />
<line x1="807.95" y1="1490.95" x2="819.95" y2="1490.95" stroke="#555" stroke-width="2.2" stroke-linecap="butt" />
<line x1="807.95" y1="1535.32" x2="819.95" y2="1535.32" stroke="#555" stroke-width="2.2" stroke-linecap="butt" />
<line x1="813.95" y1="1439.8" x2="813.95" y2="1544.2" stroke="#555" stroke-width="2" stroke-linecap="butt" />
<line x1="807.95" y1="1439.8" x2="819.95" y2="1439.8" stroke="#555" stroke-width="2.2" stroke-linecap="butt" />
<line x1="807.95" y1="1544.2" x2="819.95" y2="1544.2" stroke="#555" stroke-width="2.2" stroke-linecap="butt" />
<line x1="840.3" y1="1458.85" x2="840.3" y2="1529.84" stroke="#555" stroke-width="2" stroke-linecap="butt" />
<line x1="834.3" y1="1458.85" x2="846.3" y2="1458.85" stroke="#555" stroke-width="2.2" stroke-linecap="butt" />
<line x1="834.3" y1="1529.84" x2="846.3" y2="1529.84" stroke="#555" stroke-width="2.2" stroke-linecap="butt" />
<line x1="840.3" y1="1390.47" x2="840.3" y2="1479.21" stroke="#555" stroke-width="2" stroke-linecap="butt" />
<line x1="834.3" y1="1390.47" x2="846.3" y2="1390.47" stroke="#555" stroke-width="2.2" stroke-linecap="butt" />
<line x1="834.3" y1="1479.21" x2="846.3" y2="1479.21" stroke="#555" stroke-width="2.2" stroke-linecap="butt" />
<line x1="866.65" y1="1474.77" x2="866.65" y2="1526.97" stroke="#555" stroke-width="2" stroke-linecap="butt" />
<line x1="860.65" y1="1474.77" x2="872.65" y2="1474.77" stroke="#555" stroke-width="2.2" stroke-linecap="butt" />
<line x1="860.65" y1="1526.97" x2="872.65" y2="1526.97" stroke="#555" stroke-width="2.2" stroke-linecap="butt" />
<line x1="866.65" y1="1401.69" x2="866.65" y2="1503.48" stroke="#555" stroke-width="2" stroke-linecap="butt" />
<line x1="860.65" y1="1401.69" x2="872.65" y2="1401.69" stroke="#555" stroke-width="2.2" stroke-linecap="butt" />
<line x1="860.65" y1="1503.48" x2="872.65" y2="1503.48" stroke="#555" stroke-width="2.2" stroke-linecap="butt" />
<line x1="919.34" y1="1385.25" x2="919.34" y2="1485.47" stroke="#555" stroke-width="2" stroke-linecap="butt" />
<line x1="913.34" y1="1385.25" x2="925.34" y2="1385.25" stroke="#555" stroke-width="2.2" stroke-linecap="butt" />
<line x1="913.34" y1="1485.47" x2="925.34" y2="1485.47" stroke="#555" stroke-width="2.2" stroke-linecap="butt" />
<line x1="919.34" y1="1340.88" x2="919.34" y2="1448.41" stroke="#555" stroke-width="2" stroke-linecap="butt" />
<line x1="913.34" y1="1340.88" x2="925.34" y2="1340.88" stroke="#555" stroke-width="2.2" stroke-linecap="butt" />
<line x1="913.34" y1="1448.41" x2="925.34" y2="1448.41" stroke="#555" stroke-width="2.2" stroke-linecap="butt" />
<line x1="945.68" y1="1460.15" x2="945.68" y2="1499.3" stroke="#555" stroke-width="2" stroke-linecap="butt" />
<line x1="939.68" y1="1460.15" x2="951.68" y2="1460.15" stroke="#555" stroke-width="2.2" stroke-linecap="butt" />
<line x1="939.68" y1="1499.3" x2="951.68" y2="1499.3" stroke="#555" stroke-width="2.2" stroke-linecap="butt" />
<line x1="945.68" y1="1389.95" x2="945.68" y2="1449.45" stroke="#555" stroke-width="2" stroke-linecap="butt" />
<line x1="939.68" y1="1389.95" x2="951.68" y2="1389.95" stroke="#555" stroke-width="2.2" stroke-linecap="butt" />
<line x1="939.68" y1="1449.45" x2="951.68" y2="1449.45" stroke="#555" stroke-width="2.2" stroke-linecap="butt" />
<line x1="972.03" y1="1465.63" x2="972.03" y2="1523.06" stroke="#555" stroke-width="2" stroke-linecap="butt" />
<line x1="966.03" y1="1465.63" x2="978.03" y2="1465.63" stroke="#555" stroke-width="2.2" stroke-linecap="butt" />
<line x1="966.03" y1="1523.06" x2="978.03" y2="1523.06" stroke="#555" stroke-width="2.2" stroke-linecap="butt" />
<line x1="972.03" y1="1426.49" x2="972.03" y2="1473.99" stroke="#555" stroke-width="2" stroke-linecap="butt" />
<line x1="966.03" y1="1426.49" x2="978.03" y2="1426.49" stroke="#555" stroke-width="2.2" stroke-linecap="butt" />
<line x1="966.03" y1="1473.99" x2="978.03" y2="1473.99" stroke="#555" stroke-width="2.2" stroke-linecap="butt" />
<line x1="998.37" y1="1510.79" x2="998.37" y2="1526.45" stroke="#555" stroke-width="2" stroke-linecap="butt" />
<line x1="992.37" y1="1510.79" x2="1004.37" y2="1510.79" stroke="#555" stroke-width="2.2" stroke-linecap="butt" />
<line x1="992.37" y1="1526.45" x2="1004.37" y2="1526.45" stroke="#555" stroke-width="2.2" stroke-linecap="butt" />
<line x1="998.37" y1="1493.04" x2="998.37" y2="1517.57" stroke="#555" stroke-width="2" stroke-linecap="butt" />
<line x1="992.37" y1="1493.04" x2="1004.37" y2="1493.04" stroke="#555" stroke-width="2.2" stroke-linecap="butt" />
<line x1="992.37" y1="1517.57" x2="1004.37" y2="1517.57" stroke="#555" stroke-width="2.2" stroke-linecap="butt" />
<line x1="1051.06" y1="1428.57" x2="1051.06" y2="1500.09" stroke="#555" stroke-width="2" stroke-linecap="butt" />
<line x1="1045.06" y1="1428.57" x2="1057.06" y2="1428.57" stroke="#555" stroke-width="2.2" stroke-linecap="butt" />
<line x1="1045.06" y1="1500.09" x2="1057.06" y2="1500.09" stroke="#555" stroke-width="2.2" stroke-linecap="butt" />
<line x1="1051.06" y1="1410.56" x2="1051.06" y2="1504.52" stroke="#555" stroke-width="2" stroke-linecap="butt" />
<line x1="1045.06" y1="1410.56" x2="1057.06" y2="1410.56" stroke="#555" stroke-width="2.2" stroke-linecap="butt" />
<line x1="1045.06" y1="1504.52" x2="1057.06" y2="1504.52" stroke="#555" stroke-width="2.2" stroke-linecap="butt" />
<line x1="1077.41" y1="1471.12" x2="1077.41" y2="1512.88" stroke="#555" stroke-width="2" stroke-linecap="butt" />
<line x1="1071.41" y1="1471.12" x2="1083.41" y2="1471.12" stroke="#555" stroke-width="2.2" stroke-linecap="butt" />
<line x1="1071.41" y1="1512.88" x2="1083.41" y2="1512.88" stroke="#555" stroke-width="2.2" stroke-linecap="butt" />
<line x1="1077.41" y1="1483.38" x2="1077.41" y2="1509.48" stroke="#555" stroke-width="2" stroke-linecap="butt" />
<line x1="1071.41" y1="1483.38" x2="1083.41" y2="1483.38" stroke="#555" stroke-width="2.2" stroke-linecap="butt" />
<line x1="1071.41" y1="1509.48" x2="1083.41" y2="1509.48" stroke="#555" stroke-width="2.2" stroke-linecap="butt" />
<line x1="1103.75" y1="1512.09" x2="1103.75" y2="1527.75" stroke="#555" stroke-width="2" stroke-linecap="butt" />
<line x1="1097.75" y1="1512.09" x2="1109.75" y2="1512.09" stroke="#555" stroke-width="2.2" stroke-linecap="butt" />
<line x1="1097.75" y1="1527.75" x2="1109.75" y2="1527.75" stroke="#555" stroke-width="2.2" stroke-linecap="butt" />
<line x1="1103.75" y1="1493.82" x2="1103.75" y2="1519.92" stroke="#555" stroke-width="2" stroke-linecap="butt" />
<line x1="1097.75" y1="1493.82" x2="1109.75" y2="1493.82" stroke="#555" stroke-width="2.2" stroke-linecap="butt" />
<line x1="1097.75" y1="1519.92" x2="1109.75" y2="1519.92" stroke="#555" stroke-width="2.2" stroke-linecap="butt" />
<line x1="1130.1" y1="1512.09" x2="1130.1" y2="1527.75" stroke="#555" stroke-width="2" stroke-linecap="butt" />
<line x1="1124.1" y1="1512.09" x2="1136.1" y2="1512.09" stroke="#555" stroke-width="2.2" stroke-linecap="butt" />
<line x1="1124.1" y1="1527.75" x2="1136.1" y2="1527.75" stroke="#555" stroke-width="2.2" stroke-linecap="butt" />
<line x1="1130.1" y1="1484.69" x2="1130.1" y2="1509.22" stroke="#555" stroke-width="2" stroke-linecap="butt" />
<line x1="1124.1" y1="1484.69" x2="1136.1" y2="1484.69" stroke="#555" stroke-width="2.2" stroke-linecap="butt" />
<line x1="1124.1" y1="1509.22" x2="1136.1" y2="1509.22" stroke="#555" stroke-width="2.2" stroke-linecap="butt" />
<line x1="1182.79" y1="1478.16" x2="1182.79" y2="1512.62" stroke="#555" stroke-width="2" stroke-linecap="butt" />
<line x1="1176.79" y1="1478.16" x2="1188.79" y2="1478.16" stroke="#555" stroke-width="2.2" stroke-linecap="butt" />
<line x1="1176.79" y1="1512.62" x2="1188.79" y2="1512.62" stroke="#555" stroke-width="2.2" stroke-linecap="butt" />
<line x1="1182.79" y1="1412.13" x2="1182.79" y2="1506.09" stroke="#555" stroke-width="2" stroke-linecap="butt" />
<line x1="1176.79" y1="1412.13" x2="1188.79" y2="1412.13" stroke="#555" stroke-width="2.2" stroke-linecap="butt" />
<line x1="1176.79" y1="1506.09" x2="1188.79" y2="1506.09" stroke="#555" stroke-width="2.2" stroke-linecap="butt" />
<line x1="1209.14" y1="1516.27" x2="1209.14" y2="1531.93" stroke="#555" stroke-width="2" stroke-linecap="butt" />
<line x1="1203.14" y1="1516.27" x2="1215.14" y2="1516.27" stroke="#555" stroke-width="2.2" stroke-linecap="butt" />
<line x1="1203.14" y1="1531.93" x2="1215.14" y2="1531.93" stroke="#555" stroke-width="2.2" stroke-linecap="butt" />
<line x1="1209.14" y1="1504.79" x2="1209.14" y2="1520.45" stroke="#555" stroke-width="2" stroke-linecap="butt" />
<line x1="1203.14" y1="1504.79" x2="1215.14" y2="1504.79" stroke="#555" stroke-width="2.2" stroke-linecap="butt" />
<line x1="1203.14" y1="1520.45" x2="1215.14" y2="1520.45" stroke="#555" stroke-width="2.2" stroke-linecap="butt" />
<line x1="1235.48" y1="1496.17" x2="1235.48" y2="1517.05" stroke="#555" stroke-width="2" stroke-linecap="butt" />
<line x1="1229.48" y1="1496.17" x2="1241.48" y2="1496.17" stroke="#555" stroke-width="2.2" stroke-linecap="butt" />
<line x1="1229.48" y1="1517.05" x2="1241.48" y2="1517.05" stroke="#555" stroke-width="2.2" stroke-linecap="butt" />
<line x1="1235.48" y1="1438.49" x2="1235.48" y2="1490.69" stroke="#555" stroke-width="2" stroke-linecap="butt" />
<line x1="1229.48" y1="1438.49" x2="1241.48" y2="1438.49" stroke="#555" stroke-width="2.2" stroke-linecap="butt" />
<line x1="1229.48" y1="1490.69" x2="1241.48" y2="1490.69" stroke="#555" stroke-width="2.2" stroke-linecap="butt" />
<line x1="1261.83" y1="1510.79" x2="1261.83" y2="1526.45" stroke="#555" stroke-width="2" stroke-linecap="butt" />
<line x1="1255.83" y1="1510.79" x2="1267.83" y2="1510.79" stroke="#555" stroke-width="2.2" stroke-linecap="butt" />
<line x1="1255.83" y1="1526.45" x2="1267.83" y2="1526.45" stroke="#555" stroke-width="2.2" stroke-linecap="butt" />
<line x1="1261.83" y1="1507.92" x2="1261.83" y2="1523.58" stroke="#555" stroke-width="2" stroke-linecap="butt" />
<line x1="1255.83" y1="1507.92" x2="1267.83" y2="1507.92" stroke="#555" stroke-width="2.2" stroke-linecap="butt" />
<line x1="1255.83" y1="1523.58" x2="1267.83" y2="1523.58" stroke="#555" stroke-width="2.2" stroke-linecap="butt" />
<polyline points="128.97,1335.4 155.32,1487.56 181.66,1500.87 208.01,1524.1" fill="none" stroke="#000" stroke-width="4.7" stroke-linecap="round" stroke-linejoin="round" />
<rect x="119.47" y="1325.9" width="19" height="19" rx="1" fill="#fff" stroke="#000" stroke-width="3.6"/>
<rect x="145.82" y="1478.06" width="19" height="19" rx="1" fill="#fff" stroke="#000" stroke-width="3.6"/>
<rect x="172.16" y="1491.37" width="19" height="19" rx="1" fill="#fff" stroke="#000" stroke-width="3.6"/>
<rect x="198.51" y="1514.6" width="19" height="19" rx="1" fill="#fff" stroke="#000" stroke-width="3.6"/>
<polyline points="128.97,1305.38 155.32,1404.3 181.66,1407.69 208.01,1440.32" fill="none" stroke="#000" stroke-width="4.7" stroke-linecap="round" stroke-linejoin="round" stroke-dasharray="13.6 21.8" stroke-dashoffset="2" />
<path d="M128.97,1294.38 L139.82,1316.38 L118.12,1316.38 Z" fill="#000" stroke="#000" stroke-width="0.8" stroke-linejoin="round"/>
<path d="M155.32,1393.3 L166.17,1415.3 L144.47,1415.3 Z" fill="#000" stroke="#000" stroke-width="0.8" stroke-linejoin="round"/>
<path d="M181.66,1396.69 L192.51,1418.69 L170.81,1418.69 Z" fill="#000" stroke="#000" stroke-width="0.8" stroke-linejoin="round"/>
<path d="M208.01,1429.32 L218.86,1451.32 L197.16,1451.32 Z" fill="#000" stroke="#000" stroke-width="0.8" stroke-linejoin="round"/>
<polyline points="260.7,1248.74 287.05,1505.31 313.39,1466.42 339.74,1473.2" fill="none" stroke="#000" stroke-width="4.7" stroke-linecap="round" stroke-linejoin="round" />
<rect x="251.2" y="1239.24" width="19" height="19" rx="1" fill="#fff" stroke="#000" stroke-width="3.6"/>
<rect x="277.55" y="1495.81" width="19" height="19" rx="1" fill="#fff" stroke="#000" stroke-width="3.6"/>
<rect x="303.89" y="1456.92" width="19" height="19" rx="1" fill="#fff" stroke="#000" stroke-width="3.6"/>
<rect x="330.24" y="1463.7" width="19" height="19" rx="1" fill="#fff" stroke="#000" stroke-width="3.6"/>
<polyline points="260.7,1358.36 287.05,1417.61 313.39,1457.54 339.74,1464.33" fill="none" stroke="#000" stroke-width="4.7" stroke-linecap="round" stroke-linejoin="round" stroke-dasharray="13.6 21.8" stroke-dashoffset="2" />
<path d="M260.7,1347.36 L271.55,1369.36 L249.85,1369.36 Z" fill="#000" stroke="#000" stroke-width="0.8" stroke-linejoin="round"/>
<path d="M287.05,1406.61 L297.9,1428.61 L276.2,1428.61 Z" fill="#000" stroke="#000" stroke-width="0.8" stroke-linejoin="round"/>
<path d="M313.39,1446.54 L324.24,1468.54 L302.54,1468.54 Z" fill="#000" stroke="#000" stroke-width="0.8" stroke-linejoin="round"/>
<path d="M339.74,1453.33 L350.59,1475.33 L328.89,1475.33 Z" fill="#000" stroke="#000" stroke-width="0.8" stroke-linejoin="round"/>
<polyline points="392.43,1363.32 418.77,1489.91 445.12,1529.84 471.46,1518.62" fill="none" stroke="#000" stroke-width="4.7" stroke-linecap="round" stroke-linejoin="round" />
<rect x="382.93" y="1353.82" width="19" height="19" rx="1" fill="#fff" stroke="#000" stroke-width="3.6"/>
<rect x="409.27" y="1480.41" width="19" height="19" rx="1" fill="#fff" stroke="#000" stroke-width="3.6"/>
<rect x="435.62" y="1520.34" width="19" height="19" rx="1" fill="#fff" stroke="#000" stroke-width="3.6"/>
<rect x="461.96" y="1509.12" width="19" height="19" rx="1" fill="#fff" stroke="#000" stroke-width="3.6"/>
<polyline points="392.43,1401.43 418.77,1501.91 445.12,1503.22 471.46,1496.43" fill="none" stroke="#000" stroke-width="4.7" stroke-linecap="round" stroke-linejoin="round" stroke-dasharray="13.6 21.8" stroke-dashoffset="2" />
<path d="M392.43,1390.43 L403.28,1412.43 L381.58,1412.43 Z" fill="#000" stroke="#000" stroke-width="0.8" stroke-linejoin="round"/>
<path d="M418.77,1490.91 L429.62,1512.91 L407.92,1512.91 Z" fill="#000" stroke="#000" stroke-width="0.8" stroke-linejoin="round"/>
<path d="M445.12,1492.22 L455.97,1514.22 L434.27,1514.22 Z" fill="#000" stroke="#000" stroke-width="0.8" stroke-linejoin="round"/>
<path d="M471.46,1485.43 L482.31,1507.43 L460.61,1507.43 Z" fill="#000" stroke="#000" stroke-width="0.8" stroke-linejoin="round"/>
<polyline points="524.15,1446.58 550.5,1471.9 576.85,1487.56 603.19,1493.04" fill="none" stroke="#000" stroke-width="4.7" stroke-linecap="round" stroke-linejoin="round" />
<rect x="514.65" y="1437.08" width="19" height="19" rx="1" fill="#fff" stroke="#000" stroke-width="3.6"/>
<rect x="541" y="1462.4" width="19" height="19" rx="1" fill="#fff" stroke="#000" stroke-width="3.6"/>
<rect x="567.35" y="1478.06" width="19" height="19" rx="1" fill="#fff" stroke="#000" stroke-width="3.6"/>
<rect x="593.69" y="1483.54" width="19" height="19" rx="1" fill="#fff" stroke="#000" stroke-width="3.6"/>
<polyline points="524.15,1427.01 550.5,1481.3 576.85,1494.61 603.19,1502.44" fill="none" stroke="#000" stroke-width="4.7" stroke-linecap="round" stroke-linejoin="round" stroke-dasharray="13.6 21.8" stroke-dashoffset="2" />
<path d="M524.15,1416.01 L535,1438.01 L513.3,1438.01 Z" fill="#000" stroke="#000" stroke-width="0.8" stroke-linejoin="round"/>
<path d="M550.5,1470.3 L561.35,1492.3 L539.65,1492.3 Z" fill="#000" stroke="#000" stroke-width="0.8" stroke-linejoin="round"/>
<path d="M576.85,1483.61 L587.7,1505.61 L566,1505.61 Z" fill="#000" stroke="#000" stroke-width="0.8" stroke-linejoin="round"/>
<path d="M603.19,1491.44 L614.04,1513.44 L592.34,1513.44 Z" fill="#000" stroke="#000" stroke-width="0.8" stroke-linejoin="round"/>
<polyline points="655.88,1458.59 682.23,1512.09 708.57,1510.79 734.92,1516.53" fill="none" stroke="#000" stroke-width="4.7" stroke-linecap="round" stroke-linejoin="round" />
<rect x="646.38" y="1449.09" width="19" height="19" rx="1" fill="#fff" stroke="#000" stroke-width="3.6"/>
<rect x="672.73" y="1502.59" width="19" height="19" rx="1" fill="#fff" stroke="#000" stroke-width="3.6"/>
<rect x="699.07" y="1501.29" width="19" height="19" rx="1" fill="#fff" stroke="#000" stroke-width="3.6"/>
<rect x="725.42" y="1507.03" width="19" height="19" rx="1" fill="#fff" stroke="#000" stroke-width="3.6"/>
<polyline points="655.88,1461.98 682.23,1492 708.57,1495.39 734.92,1464.59" fill="none" stroke="#000" stroke-width="4.7" stroke-linecap="round" stroke-linejoin="round" stroke-dasharray="13.6 21.8" stroke-dashoffset="2" />
<path d="M655.88,1450.98 L666.73,1472.98 L645.03,1472.98 Z" fill="#000" stroke="#000" stroke-width="0.8" stroke-linejoin="round"/>
<path d="M682.23,1481 L693.08,1503 L671.38,1503 Z" fill="#000" stroke="#000" stroke-width="0.8" stroke-linejoin="round"/>
<path d="M708.57,1484.39 L719.42,1506.39 L697.72,1506.39 Z" fill="#000" stroke="#000" stroke-width="0.8" stroke-linejoin="round"/>
<path d="M734.92,1453.59 L745.77,1475.59 L724.07,1475.59 Z" fill="#000" stroke="#000" stroke-width="0.8" stroke-linejoin="round"/>
<polyline points="787.61,1454.41 813.95,1513.14 840.3,1494.35 866.65,1500.87" fill="none" stroke="#000" stroke-width="4.7" stroke-linecap="round" stroke-linejoin="round" />
<rect x="778.11" y="1444.91" width="19" height="19" rx="1" fill="#fff" stroke="#000" stroke-width="3.6"/>
<rect x="804.45" y="1503.64" width="19" height="19" rx="1" fill="#fff" stroke="#000" stroke-width="3.6"/>
<rect x="830.8" y="1484.85" width="19" height="19" rx="1" fill="#fff" stroke="#000" stroke-width="3.6"/>
<rect x="857.15" y="1491.37" width="19" height="19" rx="1" fill="#fff" stroke="#000" stroke-width="3.6"/>
<polyline points="787.61,1440.32 813.95,1492 840.3,1434.84 866.65,1452.59" fill="none" stroke="#000" stroke-width="4.7" stroke-linecap="round" stroke-linejoin="round" stroke-dasharray="13.6 21.8" stroke-dashoffset="2" />
<path d="M787.61,1429.32 L798.46,1451.32 L776.76,1451.32 Z" fill="#000" stroke="#000" stroke-width="0.8" stroke-linejoin="round"/>
<path d="M813.95,1481 L824.8,1503 L803.1,1503 Z" fill="#000" stroke="#000" stroke-width="0.8" stroke-linejoin="round"/>
<path d="M840.3,1423.84 L851.15,1445.84 L829.45,1445.84 Z" fill="#000" stroke="#000" stroke-width="0.8" stroke-linejoin="round"/>
<path d="M866.65,1441.59 L877.5,1463.59 L855.8,1463.59 Z" fill="#000" stroke="#000" stroke-width="0.8" stroke-linejoin="round"/>
<polyline points="919.34,1435.36 945.68,1479.73 972.03,1494.35 998.37,1518.62" fill="none" stroke="#000" stroke-width="4.7" stroke-linecap="round" stroke-linejoin="round" />
<rect x="909.84" y="1425.86" width="19" height="19" rx="1" fill="#fff" stroke="#000" stroke-width="3.6"/>
<rect x="936.18" y="1470.23" width="19" height="19" rx="1" fill="#fff" stroke="#000" stroke-width="3.6"/>
<rect x="962.53" y="1484.85" width="19" height="19" rx="1" fill="#fff" stroke="#000" stroke-width="3.6"/>
<rect x="988.87" y="1509.12" width="19" height="19" rx="1" fill="#fff" stroke="#000" stroke-width="3.6"/>
<polyline points="919.34,1394.64 945.68,1419.7 972.03,1450.24 998.37,1505.31" fill="none" stroke="#000" stroke-width="4.7" stroke-linecap="round" stroke-linejoin="round" stroke-dasharray="13.6 21.8" stroke-dashoffset="2" />
<path d="M919.34,1383.64 L930.19,1405.64 L908.49,1405.64 Z" fill="#000" stroke="#000" stroke-width="0.8" stroke-linejoin="round"/>
<path d="M945.68,1408.7 L956.53,1430.7 L934.83,1430.7 Z" fill="#000" stroke="#000" stroke-width="0.8" stroke-linejoin="round"/>
<path d="M972.03,1439.24 L982.88,1461.24 L961.18,1461.24 Z" fill="#000" stroke="#000" stroke-width="0.8" stroke-linejoin="round"/>
<path d="M998.37,1494.31 L1009.22,1516.31 L987.52,1516.31 Z" fill="#000" stroke="#000" stroke-width="0.8" stroke-linejoin="round"/>
<polyline points="1051.06,1464.33 1077.41,1492 1103.75,1519.92 1130.1,1519.92" fill="none" stroke="#000" stroke-width="4.7" stroke-linecap="round" stroke-linejoin="round" />
<rect x="1041.56" y="1454.83" width="19" height="19" rx="1" fill="#fff" stroke="#000" stroke-width="3.6"/>
<rect x="1067.91" y="1482.5" width="19" height="19" rx="1" fill="#fff" stroke="#000" stroke-width="3.6"/>
<rect x="1094.25" y="1510.42" width="19" height="19" rx="1" fill="#fff" stroke="#000" stroke-width="3.6"/>
<rect x="1120.6" y="1510.42" width="19" height="19" rx="1" fill="#fff" stroke="#000" stroke-width="3.6"/>
<polyline points="1051.06,1457.54 1077.41,1496.43 1103.75,1506.87 1130.1,1496.96" fill="none" stroke="#000" stroke-width="4.7" stroke-linecap="round" stroke-linejoin="round" stroke-dasharray="13.6 21.8" stroke-dashoffset="2" />
<path d="M1051.06,1446.54 L1061.91,1468.54 L1040.21,1468.54 Z" fill="#000" stroke="#000" stroke-width="0.8" stroke-linejoin="round"/>
<path d="M1077.41,1485.43 L1088.26,1507.43 L1066.56,1507.43 Z" fill="#000" stroke="#000" stroke-width="0.8" stroke-linejoin="round"/>
<path d="M1103.75,1495.87 L1114.6,1517.87 L1092.9,1517.87 Z" fill="#000" stroke="#000" stroke-width="0.8" stroke-linejoin="round"/>
<path d="M1130.1,1485.96 L1140.95,1507.96 L1119.25,1507.96 Z" fill="#000" stroke="#000" stroke-width="0.8" stroke-linejoin="round"/>
<polyline points="1182.79,1495.39 1209.14,1524.1 1235.48,1506.61 1261.83,1518.62" fill="none" stroke="#000" stroke-width="4.7" stroke-linecap="round" stroke-linejoin="round" />
<rect x="1173.29" y="1485.89" width="19" height="19" rx="1" fill="#fff" stroke="#000" stroke-width="3.6"/>
<rect x="1199.64" y="1514.6" width="19" height="19" rx="1" fill="#fff" stroke="#000" stroke-width="3.6"/>
<rect x="1225.98" y="1497.11" width="19" height="19" rx="1" fill="#fff" stroke="#000" stroke-width="3.6"/>
<rect x="1252.33" y="1509.12" width="19" height="19" rx="1" fill="#fff" stroke="#000" stroke-width="3.6"/>
<polyline points="1182.79,1459.11 1209.14,1512.62 1235.48,1464.59 1261.83,1515.75" fill="none" stroke="#000" stroke-width="4.7" stroke-linecap="round" stroke-linejoin="round" stroke-dasharray="13.6 21.8" stroke-dashoffset="2" />
<path d="M1182.79,1448.11 L1193.64,1470.11 L1171.94,1470.11 Z" fill="#000" stroke="#000" stroke-width="0.8" stroke-linejoin="round"/>
<path d="M1209.14,1501.62 L1219.99,1523.62 L1198.29,1523.62 Z" fill="#000" stroke="#000" stroke-width="0.8" stroke-linejoin="round"/>
<path d="M1235.48,1453.59 L1246.33,1475.59 L1224.63,1475.59 Z" fill="#000" stroke="#000" stroke-width="0.8" stroke-linejoin="round"/>
<path d="M1261.83,1504.75 L1272.68,1526.75 L1250.98,1526.75 Z" fill="#000" stroke="#000" stroke-width="0.8" stroke-linejoin="round"/>
<path d="M115.8,1142 V1570.3" stroke="#000" stroke-width="4.6" fill="none"/>
<line x1="106.9" y1="1561.4" x2="115.8" y2="1561.4" stroke="#000" stroke-width="4.6" stroke-linecap="butt" />
<line x1="106.9" y1="1508.98" x2="115.8" y2="1508.98" stroke="#000" stroke-width="4.6" stroke-linecap="butt" />
<line x1="106.9" y1="1456.55" x2="115.8" y2="1456.55" stroke="#000" stroke-width="4.6" stroke-linecap="butt" />
<line x1="106.9" y1="1404.12" x2="115.8" y2="1404.12" stroke="#000" stroke-width="4.6" stroke-linecap="butt" />
<line x1="106.9" y1="1351.7" x2="115.8" y2="1351.7" stroke="#000" stroke-width="4.6" stroke-linecap="butt" />
<line x1="106.9" y1="1299.28" x2="115.8" y2="1299.28" stroke="#000" stroke-width="4.6" stroke-linecap="butt" />
<line x1="106.9" y1="1246.85" x2="115.8" y2="1246.85" stroke="#000" stroke-width="4.6" stroke-linecap="butt" />
<line x1="106.9" y1="1194.42" x2="115.8" y2="1194.42" stroke="#000" stroke-width="4.6" stroke-linecap="butt" />
<line x1="106.9" y1="1142" x2="115.8" y2="1142" stroke="#000" stroke-width="4.6" stroke-linecap="butt" />
<line x1="106.9" y1="1561.4" x2="1275" y2="1561.4" stroke="#000" stroke-width="4.6" stroke-linecap="butt" />
<line x1="115.8" y1="1561.4" x2="115.8" y2="1570.3" stroke="#000" stroke-width="4.6" stroke-linecap="butt" />
<line x1="142.15" y1="1561.4" x2="142.15" y2="1570.3" stroke="#000" stroke-width="4.6" stroke-linecap="butt" />
<line x1="168.49" y1="1561.4" x2="168.49" y2="1570.3" stroke="#000" stroke-width="4.6" stroke-linecap="butt" />
<line x1="194.84" y1="1561.4" x2="194.84" y2="1570.3" stroke="#000" stroke-width="4.6" stroke-linecap="butt" />
<line x1="221.18" y1="1561.4" x2="221.18" y2="1570.3" stroke="#000" stroke-width="4.6" stroke-linecap="butt" />
<line x1="247.53" y1="1561.4" x2="247.53" y2="1570.3" stroke="#000" stroke-width="4.6" stroke-linecap="butt" />
<line x1="273.87" y1="1561.4" x2="273.87" y2="1570.3" stroke="#000" stroke-width="4.6" stroke-linecap="butt" />
<line x1="300.22" y1="1561.4" x2="300.22" y2="1570.3" stroke="#000" stroke-width="4.6" stroke-linecap="butt" />
<line x1="326.56" y1="1561.4" x2="326.56" y2="1570.3" stroke="#000" stroke-width="4.6" stroke-linecap="butt" />
<line x1="352.91" y1="1561.4" x2="352.91" y2="1570.3" stroke="#000" stroke-width="4.6" stroke-linecap="butt" />
<line x1="379.25" y1="1561.4" x2="379.25" y2="1570.3" stroke="#000" stroke-width="4.6" stroke-linecap="butt" />
<line x1="405.6" y1="1561.4" x2="405.6" y2="1570.3" stroke="#000" stroke-width="4.6" stroke-linecap="butt" />
<line x1="431.95" y1="1561.4" x2="431.95" y2="1570.3" stroke="#000" stroke-width="4.6" stroke-linecap="butt" />
<line x1="458.29" y1="1561.4" x2="458.29" y2="1570.3" stroke="#000" stroke-width="4.6" stroke-linecap="butt" />
<line x1="484.64" y1="1561.4" x2="484.64" y2="1570.3" stroke="#000" stroke-width="4.6" stroke-linecap="butt" />
<line x1="510.98" y1="1561.4" x2="510.98" y2="1570.3" stroke="#000" stroke-width="4.6" stroke-linecap="butt" />
<line x1="537.33" y1="1561.4" x2="537.33" y2="1570.3" stroke="#000" stroke-width="4.6" stroke-linecap="butt" />
<line x1="563.67" y1="1561.4" x2="563.67" y2="1570.3" stroke="#000" stroke-width="4.6" stroke-linecap="butt" />
<line x1="590.02" y1="1561.4" x2="590.02" y2="1570.3" stroke="#000" stroke-width="4.6" stroke-linecap="butt" />
<line x1="616.36" y1="1561.4" x2="616.36" y2="1570.3" stroke="#000" stroke-width="4.6" stroke-linecap="butt" />
<line x1="642.71" y1="1561.4" x2="642.71" y2="1570.3" stroke="#000" stroke-width="4.6" stroke-linecap="butt" />
<line x1="669.05" y1="1561.4" x2="669.05" y2="1570.3" stroke="#000" stroke-width="4.6" stroke-linecap="butt" />
<line x1="695.4" y1="1561.4" x2="695.4" y2="1570.3" stroke="#000" stroke-width="4.6" stroke-linecap="butt" />
<line x1="721.75" y1="1561.4" x2="721.75" y2="1570.3" stroke="#000" stroke-width="4.6" stroke-linecap="butt" />
<line x1="748.09" y1="1561.4" x2="748.09" y2="1570.3" stroke="#000" stroke-width="4.6" stroke-linecap="butt" />
<line x1="774.44" y1="1561.4" x2="774.44" y2="1570.3" stroke="#000" stroke-width="4.6" stroke-linecap="butt" />
<line x1="800.78" y1="1561.4" x2="800.78" y2="1570.3" stroke="#000" stroke-width="4.6" stroke-linecap="butt" />
<line x1="827.13" y1="1561.4" x2="827.13" y2="1570.3" stroke="#000" stroke-width="4.6" stroke-linecap="butt" />
<line x1="853.47" y1="1561.4" x2="853.47" y2="1570.3" stroke="#000" stroke-width="4.6" stroke-linecap="butt" />
<line x1="879.82" y1="1561.4" x2="879.82" y2="1570.3" stroke="#000" stroke-width="4.6" stroke-linecap="butt" />
<line x1="906.16" y1="1561.4" x2="906.16" y2="1570.3" stroke="#000" stroke-width="4.6" stroke-linecap="butt" />
<line x1="932.51" y1="1561.4" x2="932.51" y2="1570.3" stroke="#000" stroke-width="4.6" stroke-linecap="butt" />
<line x1="958.85" y1="1561.4" x2="958.85" y2="1570.3" stroke="#000" stroke-width="4.6" stroke-linecap="butt" />
<line x1="985.2" y1="1561.4" x2="985.2" y2="1570.3" stroke="#000" stroke-width="4.6" stroke-linecap="butt" />
<line x1="1011.55" y1="1561.4" x2="1011.55" y2="1570.3" stroke="#000" stroke-width="4.6" stroke-linecap="butt" />
<line x1="1037.89" y1="1561.4" x2="1037.89" y2="1570.3" stroke="#000" stroke-width="4.6" stroke-linecap="butt" />
<line x1="1064.24" y1="1561.4" x2="1064.24" y2="1570.3" stroke="#000" stroke-width="4.6" stroke-linecap="butt" />
<line x1="1090.58" y1="1561.4" x2="1090.58" y2="1570.3" stroke="#000" stroke-width="4.6" stroke-linecap="butt" />
<line x1="1116.93" y1="1561.4" x2="1116.93" y2="1570.3" stroke="#000" stroke-width="4.6" stroke-linecap="butt" />
<line x1="1143.27" y1="1561.4" x2="1143.27" y2="1570.3" stroke="#000" stroke-width="4.6" stroke-linecap="butt" />
<line x1="1169.62" y1="1561.4" x2="1169.62" y2="1570.3" stroke="#000" stroke-width="4.6" stroke-linecap="butt" />
<line x1="1195.96" y1="1561.4" x2="1195.96" y2="1570.3" stroke="#000" stroke-width="4.6" stroke-linecap="butt" />
<line x1="1222.31" y1="1561.4" x2="1222.31" y2="1570.3" stroke="#000" stroke-width="4.6" stroke-linecap="butt" />
<line x1="1248.65" y1="1561.4" x2="1248.65" y2="1570.3" stroke="#000" stroke-width="4.6" stroke-linecap="butt" />
<line x1="1275" y1="1561.4" x2="1275" y2="1570.3" stroke="#000" stroke-width="4.6" stroke-linecap="butt" />
<text x="75.43" y="1570.33" font-size="31.5" font-family='"Liberation Serif",serif'>0</text>
<text x="75.59" y="1517.91" font-size="31.5" font-family='"Liberation Serif",serif'>2</text>
<text x="74.8" y="1465.48" font-size="31.5" font-family='"Liberation Serif",serif'>4</text>
<text x="75.19" y="1413.06" font-size="31.5" font-family='"Liberation Serif",serif'>6</text>
<text x="75.27" y="1360.63" font-size="31.5" font-family='"Liberation Serif",serif'>8</text>
<text x="59.68" y="1308.21" font-size="31.5" font-family='"Liberation Serif",serif'>10</text>
<text x="59.84" y="1255.78" font-size="31.5" font-family='"Liberation Serif",serif'>12</text>
<text x="59.05" y="1203.36" font-size="31.5" font-family='"Liberation Serif",serif'>14</text>
<text x="59.45" y="1150.93" font-size="31.5" font-family='"Liberation Serif",serif'>16</text>
<text x="120.93" y="1605.6" font-size="30.5" font-family='"Liberation Serif",serif'>1</text>
<text x="147.69" y="1605.6" font-size="30.5" font-family='"Liberation Serif",serif'>2</text>
<text x="174" y="1605.6" font-size="30.5" font-family='"Liberation Serif",serif'>3</text>
<text x="200.46" y="1605.6" font-size="30.5" font-family='"Liberation Serif",serif'>4</text>
<text x="252.66" y="1605.6" font-size="30.5" font-family='"Liberation Serif",serif'>1</text>
<text x="279.42" y="1605.6" font-size="30.5" font-family='"Liberation Serif",serif'>2</text>
<text x="305.73" y="1605.6" font-size="30.5" font-family='"Liberation Serif",serif'>3</text>
<text x="332.19" y="1605.6" font-size="30.5" font-family='"Liberation Serif",serif'>4</text>
<text x="384.38" y="1605.6" font-size="30.5" font-family='"Liberation Serif",serif'>1</text>
<text x="411.15" y="1605.6" font-size="30.5" font-family='"Liberation Serif",serif'>2</text>
<text x="437.46" y="1605.6" font-size="30.5" font-family='"Liberation Serif",serif'>3</text>
<text x="463.91" y="1605.6" font-size="30.5" font-family='"Liberation Serif",serif'>4</text>
<text x="516.11" y="1605.6" font-size="30.5" font-family='"Liberation Serif",serif'>1</text>
<text x="542.88" y="1605.6" font-size="30.5" font-family='"Liberation Serif",serif'>2</text>
<text x="569.18" y="1605.6" font-size="30.5" font-family='"Liberation Serif",serif'>3</text>
<text x="595.64" y="1605.6" font-size="30.5" font-family='"Liberation Serif",serif'>4</text>
<text x="647.84" y="1605.6" font-size="30.5" font-family='"Liberation Serif",serif'>1</text>
<text x="674.6" y="1605.6" font-size="30.5" font-family='"Liberation Serif",serif'>2</text>
<text x="700.91" y="1605.6" font-size="30.5" font-family='"Liberation Serif",serif'>3</text>
<text x="727.37" y="1605.6" font-size="30.5" font-family='"Liberation Serif",serif'>4</text>
<text x="779.56" y="1605.6" font-size="30.5" font-family='"Liberation Serif",serif'>1</text>
<text x="806.33" y="1605.6" font-size="30.5" font-family='"Liberation Serif",serif'>2</text>
<text x="832.64" y="1605.6" font-size="30.5" font-family='"Liberation Serif",serif'>3</text>
<text x="859.1" y="1605.6" font-size="30.5" font-family='"Liberation Serif",serif'>4</text>
<text x="911.29" y="1605.6" font-size="30.5" font-family='"Liberation Serif",serif'>1</text>
<text x="938.06" y="1605.6" font-size="30.5" font-family='"Liberation Serif",serif'>2</text>
<text x="964.36" y="1605.6" font-size="30.5" font-family='"Liberation Serif",serif'>3</text>
<text x="990.82" y="1605.6" font-size="30.5" font-family='"Liberation Serif",serif'>4</text>
<text x="1043.02" y="1605.6" font-size="30.5" font-family='"Liberation Serif",serif'>1</text>
<text x="1069.78" y="1605.6" font-size="30.5" font-family='"Liberation Serif",serif'>2</text>
<text x="1096.09" y="1605.6" font-size="30.5" font-family='"Liberation Serif",serif'>3</text>
<text x="1122.55" y="1605.6" font-size="30.5" font-family='"Liberation Serif",serif'>4</text>
<text x="1174.75" y="1605.6" font-size="30.5" font-family='"Liberation Serif",serif'>1</text>
<text x="1201.51" y="1605.6" font-size="30.5" font-family='"Liberation Serif",serif'>2</text>
<text x="1227.82" y="1605.6" font-size="30.5" font-family='"Liberation Serif",serif'>3</text>
<text x="1254.28" y="1605.6" font-size="30.5" font-family='"Liberation Serif",serif'>4</text>
<text x="123.38" y="1660.7" font-size="35.5" font-family='"Liberation Serif",serif'>Day 1</text>
<text x="255.37" y="1657.7" font-size="35.77" font-family='"Liberation Serif",serif'>Day 2</text>
<text x="388.08" y="1660.7" font-size="35.66" font-family='"Liberation Serif",serif'>Day 3</text>
<text x="516.68" y="1661.7" font-size="35.57" font-family='"Liberation Serif",serif'>Day 4</text>
<text x="650.08" y="1660.2" font-size="35.57" font-family='"Liberation Serif",serif'>Day 5</text>
<text x="782.28" y="1660.2" font-size="35.59" font-family='"Liberation Serif",serif'>Day 6</text>
<text x="912.98" y="1662.6" font-size="35.39" font-family='"Liberation Serif",serif'>Day 7</text>
<text x="1045.18" y="1660.2" font-size="35.67" font-family='"Liberation Serif",serif'>Day 8</text>
<text x="1177.78" y="1660.2" font-size="35.54" font-family='"Liberation Serif",serif'>Day 9</text>
<line x1="942.5" y1="1178.1" x2="1004.7" y2="1178.1" stroke="#000" stroke-width="5" stroke-linecap="round" />
<rect x="965.7" y="1170.4" width="17.2" height="17.2" rx="1" fill="#fff" stroke="#000" stroke-width="3.2"/>
<text x="1012.37" y="1188.4" font-size="30.61" font-family='"Liberation Serif",serif'>Controls</text>
<line x1="942.5" y1="1231.7" x2="955.8" y2="1231.7" stroke="#000" stroke-width="5" stroke-linecap="round" />
<line x1="978.5" y1="1231.7" x2="990.8" y2="1231.7" stroke="#000" stroke-width="5" stroke-linecap="round" />
<path d="M973.9,1222.75 L983.6,1241.65 L964.2,1241.65 Z" fill="#000" stroke="#000" stroke-width="0.8" stroke-linejoin="round"/>
<text transform="translate(1014.02,1241.26) scale(1,1.0167)" font-size="30.27" font-family='"Liberation Serif",serif'>pMBRT</text>
<text transform="translate(1383.86,1095.8) scale(1,1.0393)" font-size="47.89" font-family='"Liberation Serif",serif'>F</text>
<text transform="translate(1352.13,1540.01) rotate(-90) scale(1,0.9448)" font-size="40.7" font-family='"Liberation Serif",serif'>Distance travelled (m)</text>
<line x1="1481.19" y1="1305" x2="1481.19" y2="1342.1" stroke="#333" stroke-width="1.8" stroke-linecap="butt" />
<line x1="1475.69" y1="1305" x2="1486.69" y2="1305" stroke="#333" stroke-width="2" stroke-linecap="butt" />
<line x1="1520.49" y1="1261.8" x2="1520.49" y2="1302.3" stroke="#333" stroke-width="1.8" stroke-linecap="butt" />
<line x1="1514.99" y1="1261.8" x2="1525.99" y2="1261.8" stroke="#333" stroke-width="2" stroke-linecap="butt" />
<rect x="1500.84" y="1302.3" width="39.3" height="254.4" fill="#000"/>
<path d="M1461.54,1556.7 V1342.1 H1500.84 V1556.7" fill="#fff" stroke="#000" stroke-width="4.5" stroke-linejoin="round"/>
<line x1="1617.46" y1="1429.9" x2="1617.46" y2="1455" stroke="#333" stroke-width="1.8" stroke-linecap="butt" />
<line x1="1611.96" y1="1429.9" x2="1622.96" y2="1429.9" stroke="#333" stroke-width="2" stroke-linecap="butt" />
<line x1="1656.76" y1="1419" x2="1656.76" y2="1453.8" stroke="#333" stroke-width="1.8" stroke-linecap="butt" />
<line x1="1651.26" y1="1419" x2="1662.26" y2="1419" stroke="#333" stroke-width="2" stroke-linecap="butt" />
<rect x="1637.11" y="1453.8" width="39.3" height="102.9" fill="#000"/>
<path d="M1597.81,1556.7 V1455 H1637.11 V1556.7" fill="#fff" stroke="#000" stroke-width="4.5" stroke-linejoin="round"/>
<line x1="1753.74" y1="1383.7" x2="1753.74" y2="1402.7" stroke="#333" stroke-width="1.8" stroke-linecap="butt" />
<line x1="1748.24" y1="1383.7" x2="1759.24" y2="1383.7" stroke="#333" stroke-width="2" stroke-linecap="butt" />
<line x1="1793.04" y1="1416.7" x2="1793.04" y2="1440.5" stroke="#333" stroke-width="1.8" stroke-linecap="butt" />
<line x1="1787.54" y1="1416.7" x2="1798.54" y2="1416.7" stroke="#333" stroke-width="2" stroke-linecap="butt" />
<rect x="1773.39" y="1440.5" width="39.3" height="116.2" fill="#000"/>
<path d="M1734.09,1556.7 V1402.7 H1773.39 V1556.7" fill="#fff" stroke="#000" stroke-width="4.5" stroke-linejoin="round"/>
<line x1="1890.01" y1="1368.6" x2="1890.01" y2="1395.1" stroke="#333" stroke-width="1.8" stroke-linecap="butt" />
<line x1="1884.51" y1="1368.6" x2="1895.51" y2="1368.6" stroke="#333" stroke-width="2" stroke-linecap="butt" />
<line x1="1929.31" y1="1402.7" x2="1929.31" y2="1433" stroke="#333" stroke-width="1.8" stroke-linecap="butt" />
<line x1="1923.81" y1="1402.7" x2="1934.81" y2="1402.7" stroke="#333" stroke-width="2" stroke-linecap="butt" />
<rect x="1909.66" y="1433" width="39.3" height="123.7" fill="#000"/>
<path d="M1870.36,1556.7 V1395.1 H1909.66 V1556.7" fill="#fff" stroke="#000" stroke-width="4.5" stroke-linejoin="round"/>
<path d="M1432.7,1140.6 V1565.6" stroke="#000" stroke-width="4.6" fill="none"/>
<line x1="1423.8" y1="1556.7" x2="1432.7" y2="1556.7" stroke="#000" stroke-width="4.6" stroke-linecap="butt" />
<line x1="1423.8" y1="1487.35" x2="1432.7" y2="1487.35" stroke="#000" stroke-width="4.6" stroke-linecap="butt" />
<line x1="1423.8" y1="1418" x2="1432.7" y2="1418" stroke="#000" stroke-width="4.6" stroke-linecap="butt" />
<line x1="1423.8" y1="1348.65" x2="1432.7" y2="1348.65" stroke="#000" stroke-width="4.6" stroke-linecap="butt" />
<line x1="1423.8" y1="1279.3" x2="1432.7" y2="1279.3" stroke="#000" stroke-width="4.6" stroke-linecap="butt" />
<line x1="1423.8" y1="1209.95" x2="1432.7" y2="1209.95" stroke="#000" stroke-width="4.6" stroke-linecap="butt" />
<line x1="1423.8" y1="1140.6" x2="1432.7" y2="1140.6" stroke="#000" stroke-width="4.6" stroke-linecap="butt" />
<line x1="1423.8" y1="1556.7" x2="1977.8" y2="1556.7" stroke="#000" stroke-width="4.6" stroke-linecap="butt" />
<line x1="1432.7" y1="1556.7" x2="1432.7" y2="1565.6" stroke="#000" stroke-width="4.6" stroke-linecap="butt" />
<line x1="1568.97" y1="1556.7" x2="1568.97" y2="1565.6" stroke="#000" stroke-width="4.6" stroke-linecap="butt" />
<line x1="1705.25" y1="1556.7" x2="1705.25" y2="1565.6" stroke="#000" stroke-width="4.6" stroke-linecap="butt" />
<line x1="1841.53" y1="1556.7" x2="1841.53" y2="1565.6" stroke="#000" stroke-width="4.6" stroke-linecap="butt" />
<line x1="1977.8" y1="1556.7" x2="1977.8" y2="1565.6" stroke="#000" stroke-width="4.6" stroke-linecap="butt" />
<text x="1391.93" y="1565.63" font-size="31.5" font-family='"Liberation Serif",serif'>0</text>
<text x="1368.31" y="1496.28" font-size="31.5" font-family='"Liberation Serif",serif'>0,5</text>
<text x="1392.4" y="1426.93" font-size="31.5" font-family='"Liberation Serif",serif'>1</text>
<text x="1368.31" y="1357.58" font-size="31.5" font-family='"Liberation Serif",serif'>1,5</text>
<text x="1392.09" y="1288.23" font-size="31.5" font-family='"Liberation Serif",serif'>2</text>
<text x="1368.31" y="1218.88" font-size="31.5" font-family='"Liberation Serif",serif'>2,5</text>
<text x="1391.85" y="1149.53" font-size="31.5" font-family='"Liberation Serif",serif'>3</text>
<text transform="translate(1474.41,1602.3) scale(1,1.0600)" font-size="30.6" font-family='"Liberation Serif",serif'>NW</text>
<text transform="translate(1616.34,1602.3) scale(1,1.0600)" font-size="30.6" font-family='"Liberation Serif",serif'>NE</text>
<text transform="translate(1749.02,1602.3) scale(1,1.0600)" font-size="30.6" font-family='"Liberation Serif",serif'>SW</text>
<text transform="translate(1890.96,1602.3) scale(1,1.0600)" font-size="30.6" font-family='"Liberation Serif",serif'>SE</text>
<line x1="1486.3" y1="1126" x2="1905" y2="1126" stroke="#000" stroke-width="4.5" stroke-linecap="butt" />
<line x1="1486.3" y1="1151.5" x2="1769.5" y2="1151.5" stroke="#000" stroke-width="4.5" stroke-linecap="butt" />
<line x1="1486.3" y1="1176" x2="1628.7" y2="1176" stroke="#000" stroke-width="4.5" stroke-linecap="butt" />
<text transform="translate(1682.34,1128.48) scale(1,0.9594)" font-size="33.13" font-family='"Liberation Serif",serif'>*</text>
<text transform="translate(1617.29,1153.98) scale(1,0.9258)" font-size="34.34" font-family='"Liberation Serif",serif'>*</text>
<text transform="translate(1551.79,1179.73) scale(1,0.9258)" font-size="34.34" font-family='"Liberation Serif",serif'>*</text>
<rect x="1436.2" y="1189.1" width="117.1" height="435.7" fill="none" stroke="#000" stroke-width="2.2" stroke-dasharray="9.5 7.5"/>
<text transform="translate(1422.9,1677.95) scale(1,0.9869)" font-size="35.57" font-family='"Liberation Sans",sans-serif'>Platform</text>
<rect x="1814.5" y="1196.4" width="16" height="15.2" rx="1.5" fill="#fff" stroke="#000" stroke-width="4.4"/>
<rect x="1813.3" y="1249.3" width="18.2" height="16.9" fill="#000"/>
<text transform="translate(1836.27,1213.9) scale(1,0.9880)" font-size="30.58" font-family='"Liberation Serif",serif'>Controls</text>
<text transform="translate(1837.42,1266.96) scale(1,1.0442)" font-size="30.36" font-family='"Liberation Serif",serif'>pMBRT</text>
<text x="264.3" y="1771.22" font-size="48" font-family='"Liberation Serif",serif'>G</text>
<text transform="translate(230.25,2111.79) rotate(-90) scale(1,0.9906)" font-size="35.8" font-family='"Liberation Serif",serif'>Correct choices</text>
<line x1="420.78" y1="1978.3" x2="420.78" y2="2015" stroke="#333" stroke-width="2" stroke-linecap="butt" />
<line x1="414.48" y1="1978.3" x2="427.08" y2="1978.3" stroke="#333" stroke-width="2.2" stroke-linecap="butt" />
<line x1="414.48" y1="2015" x2="427.08" y2="2015" stroke="#333" stroke-width="2.2" stroke-linecap="butt" />
<line x1="420.78" y1="1973.3" x2="420.78" y2="2017.5" stroke="#333" stroke-width="2" stroke-linecap="butt" />
<line x1="414.48" y1="1973.3" x2="427.08" y2="1973.3" stroke="#333" stroke-width="2.2" stroke-linecap="butt" />
<line x1="414.48" y1="2017.5" x2="427.08" y2="2017.5" stroke="#333" stroke-width="2.2" stroke-linecap="butt" />
<line x1="562.35" y1="1889.3" x2="562.35" y2="1927.2" stroke="#333" stroke-width="2" stroke-linecap="butt" />
<line x1="556.05" y1="1889.3" x2="568.65" y2="1889.3" stroke="#333" stroke-width="2.2" stroke-linecap="butt" />
<line x1="556.05" y1="1927.2" x2="568.65" y2="1927.2" stroke="#333" stroke-width="2.2" stroke-linecap="butt" />
<line x1="562.35" y1="1972.5" x2="562.35" y2="1999.7" stroke="#333" stroke-width="2" stroke-linecap="butt" />
<line x1="556.05" y1="1972.5" x2="568.65" y2="1972.5" stroke="#333" stroke-width="2.2" stroke-linecap="butt" />
<line x1="556.05" y1="1999.7" x2="568.65" y2="1999.7" stroke="#333" stroke-width="2.2" stroke-linecap="butt" />
<line x1="703.92" y1="1891.7" x2="703.92" y2="1945.7" stroke="#333" stroke-width="2" stroke-linecap="butt" />
<line x1="697.62" y1="1891.7" x2="710.22" y2="1891.7" stroke="#333" stroke-width="2.2" stroke-linecap="butt" />
<line x1="697.62" y1="1945.7" x2="710.22" y2="1945.7" stroke="#333" stroke-width="2.2" stroke-linecap="butt" />
<line x1="703.92" y1="1899.8" x2="703.92" y2="1948" stroke="#333" stroke-width="2" stroke-linecap="butt" />
<line x1="697.62" y1="1899.8" x2="710.22" y2="1899.8" stroke="#333" stroke-width="2.2" stroke-linecap="butt" />
<line x1="697.62" y1="1948" x2="710.22" y2="1948" stroke="#333" stroke-width="2.2" stroke-linecap="butt" />
<polyline points="420.78,1996.8 562.35,1909 703.92,1918.7" fill="none" stroke="#000" stroke-width="4.7" stroke-linecap="round" stroke-linejoin="round" />
<rect x="409.23" y="1985.25" width="23.1" height="23.1" rx="1" fill="#fff" stroke="#000" stroke-width="4.5"/>
<rect x="550.8" y="1897.45" width="23.1" height="23.1" rx="1" fill="#fff" stroke="#000" stroke-width="4.5"/>
<rect x="692.37" y="1907.15" width="23.1" height="23.1" rx="1" fill="#fff" stroke="#000" stroke-width="4.5"/>
<polyline points="420.78,1997 562.35,1986.1 703.92,1923.9" fill="none" stroke="#000" stroke-width="4.7" stroke-linecap="round" stroke-linejoin="round" stroke-dasharray="14 20.4" stroke-dashoffset="1.5" />
<path d="M420.78,1983.35 L433.98,2010.65 L407.58,2010.65 Z" fill="#000" stroke="#000" stroke-width="0.8" stroke-linejoin="round"/>
<path d="M562.35,1972.45 L575.55,1999.75 L549.15,1999.75 Z" fill="#000" stroke="#000" stroke-width="0.8" stroke-linejoin="round"/>
<path d="M703.92,1910.25 L717.12,1937.55 L690.72,1937.55 Z" fill="#000" stroke="#000" stroke-width="0.8" stroke-linejoin="round"/>
<path d="M350,1810.7 V2172.6" stroke="#000" stroke-width="4.6" fill="none"/>
<line x1="341.1" y1="2163.7" x2="350" y2="2163.7" stroke="#000" stroke-width="4.6" stroke-linecap="butt" />
<line x1="341.1" y1="2093.1" x2="350" y2="2093.1" stroke="#000" stroke-width="4.6" stroke-linecap="butt" />
<line x1="341.1" y1="2022.5" x2="350" y2="2022.5" stroke="#000" stroke-width="4.6" stroke-linecap="butt" />
<line x1="341.1" y1="1951.9" x2="350" y2="1951.9" stroke="#000" stroke-width="4.6" stroke-linecap="butt" />
<line x1="341.1" y1="1881.3" x2="350" y2="1881.3" stroke="#000" stroke-width="4.6" stroke-linecap="butt" />
<line x1="341.1" y1="1810.7" x2="350" y2="1810.7" stroke="#000" stroke-width="4.6" stroke-linecap="butt" />
<line x1="341.1" y1="2163.7" x2="774.7" y2="2163.7" stroke="#000" stroke-width="4.6" stroke-linecap="butt" />
<line x1="350" y1="2163.7" x2="350" y2="2172.6" stroke="#000" stroke-width="4.6" stroke-linecap="butt" />
<line x1="491.57" y1="2163.7" x2="491.57" y2="2172.6" stroke="#000" stroke-width="4.6" stroke-linecap="butt" />
<line x1="633.13" y1="2163.7" x2="633.13" y2="2172.6" stroke="#000" stroke-width="4.6" stroke-linecap="butt" />
<line x1="774.7" y1="2163.7" x2="774.7" y2="2172.6" stroke="#000" stroke-width="4.6" stroke-linecap="butt" />
<text x="278.94" y="2172.63" font-size="31.5" font-family='"Liberation Serif",serif'>0%</text>
<text x="263.19" y="2102.03" font-size="31.5" font-family='"Liberation Serif",serif'>20%</text>
<text x="263.19" y="2031.43" font-size="31.5" font-family='"Liberation Serif",serif'>40%</text>
<text x="263.19" y="1960.83" font-size="31.5" font-family='"Liberation Serif",serif'>60%</text>
<text x="263.19" y="1890.23" font-size="31.5" font-family='"Liberation Serif",serif'>80%</text>
<text x="247.44" y="1819.63" font-size="31.5" font-family='"Liberation Serif",serif'>100%</text>
<text x="412.63" y="2208.2" font-size="30.9" font-family='"Liberation Serif",serif'>1</text>
<text x="554.62" y="2208.2" font-size="30.9" font-family='"Liberation Serif",serif'>2</text>
<text x="696.15" y="2208.2" font-size="30.9" font-family='"Liberation Serif",serif'>3</text>
<text transform="translate(513.91,2240.21) scale(1,0.9676)" font-size="30.34" font-family='"Liberation Serif",serif'>Session</text>
<line x1="451.5" y1="2061.9" x2="514.8" y2="2061.9" stroke="#000" stroke-width="5" stroke-linecap="round" />
<rect x="474.7" y="2052.5" width="18" height="18" rx="1" fill="#fff" stroke="#000" stroke-width="5"/>
<text x="522.37" y="2070.6" font-size="30.61" font-family='"Liberation Serif",serif'>Controls</text>
<line x1="451.5" y1="2105.7" x2="465.4" y2="2105.7" stroke="#000" stroke-width="5" stroke-linecap="round" />
<line x1="487.4" y1="2105.7" x2="500" y2="2105.7" stroke="#000" stroke-width="5" stroke-linecap="round" />
<path d="M483.3,2095.05 L494.4,2116.75 L472.2,2116.75 Z" fill="#000" stroke="#000" stroke-width="0.8" stroke-linejoin="round"/>
<text transform="translate(523.52,2115.78) scale(1,1.0508)" font-size="30.19" font-family='"Liberation Serif",serif'>pMBRT</text>
<text transform="translate(866.39,1772.8) scale(1,1.0519)" font-size="46.44" font-family='"Liberation Serif",serif'>H</text>
<text transform="translate(839.16,2121.32) rotate(-90) scale(1,0.9894)" font-size="34.7" font-family='"Liberation Serif",serif'>Trials to criterion</text>
<line x1="1015" y1="1898.7" x2="1015" y2="1919.4" stroke="#333" stroke-width="1.8" stroke-linecap="butt" />
<line x1="1009.5" y1="1898.7" x2="1020.5" y2="1898.7" stroke="#333" stroke-width="2" stroke-linecap="butt" />
<line x1="1086.5" y1="1840.3" x2="1086.5" y2="1876.5" stroke="#333" stroke-width="1.8" stroke-linecap="butt" />
<line x1="1081" y1="1840.3" x2="1092" y2="1840.3" stroke="#333" stroke-width="2" stroke-linecap="butt" />
<rect x="1049" y="1876.5" width="73.5" height="288.8" fill="#000"/>
<path d="M978.4,2165.3 V1919.4 H1049 V2165.3" fill="#fff" stroke="#000" stroke-width="4.8" stroke-linejoin="round"/>
<path d="M924,1810.9 V2174.2" stroke="#000" stroke-width="4.6" fill="none"/>
<line x1="915.1" y1="2165.3" x2="924" y2="2165.3" stroke="#000" stroke-width="4.6" stroke-linecap="butt" />
<line x1="915.1" y1="2094.42" x2="924" y2="2094.42" stroke="#000" stroke-width="4.6" stroke-linecap="butt" />
<line x1="915.1" y1="2023.54" x2="924" y2="2023.54" stroke="#000" stroke-width="4.6" stroke-linecap="butt" />
<line x1="915.1" y1="1952.66" x2="924" y2="1952.66" stroke="#000" stroke-width="4.6" stroke-linecap="butt" />
<line x1="915.1" y1="1881.78" x2="924" y2="1881.78" stroke="#000" stroke-width="4.6" stroke-linecap="butt" />
<line x1="915.1" y1="1810.9" x2="924" y2="1810.9" stroke="#000" stroke-width="4.6" stroke-linecap="butt" />
<line x1="915.1" y1="2165.3" x2="1178.9" y2="2165.3" stroke="#000" stroke-width="4.6" stroke-linecap="butt" />
<line x1="924" y1="2165.3" x2="924" y2="2174.2" stroke="#000" stroke-width="4.6" stroke-linecap="butt" />
<line x1="1178.9" y1="2165.3" x2="1178.9" y2="2174.2" stroke="#000" stroke-width="4.6" stroke-linecap="butt" />
<text x="883.63" y="2174.23" font-size="31.5" font-family='"Liberation Serif",serif'>0</text>
<text x="883.63" y="2103.35" font-size="31.5" font-family='"Liberation Serif",serif'>5</text>
<text x="867.88" y="2032.47" font-size="31.5" font-family='"Liberation Serif",serif'>10</text>
<text x="867.88" y="1961.59" font-size="31.5" font-family='"Liberation Serif",serif'>15</text>
<text x="867.88" y="1890.71" font-size="31.5" font-family='"Liberation Serif",serif'>20</text>
<text x="867.88" y="1819.83" font-size="31.5" font-family='"Liberation Serif",serif'>25</text>
<text transform="translate(1282.32,1769.2) scale(1,0.9464)" font-size="51.78" font-family='"Liberation Serif",serif'>I</text>
<text transform="translate(1235.43,2075.16) rotate(-90) scale(1,0.9469)" font-size="35.61" font-family='"Liberation Serif",serif'>Animals (%)</text>
<rect x="1395.1" y="1915.7" width="32.5" height="249.1" fill="#000"/>
<path d="M1363.1,2164.8 V1927.8 H1395.1 V2164.8" fill="#fff" stroke="#000" stroke-width="4.6" stroke-linejoin="round"/>
<rect x="1507.7" y="2058.6" width="32.5" height="106.2" fill="#000"/>
<path d="M1475.7,2164.8 V2046.5 H1507.7 V2164.8" fill="#fff" stroke="#000" stroke-width="4.6" stroke-linejoin="round"/>
<path d="M1338.8,1810 V2173.7" stroke="#000" stroke-width="4.6" fill="none"/>
<line x1="1329.9" y1="2164.8" x2="1338.8" y2="2164.8" stroke="#000" stroke-width="4.6" stroke-linecap="butt" />
<line x1="1329.9" y1="2093.84" x2="1338.8" y2="2093.84" stroke="#000" stroke-width="4.6" stroke-linecap="butt" />
<line x1="1329.9" y1="2022.88" x2="1338.8" y2="2022.88" stroke="#000" stroke-width="4.6" stroke-linecap="butt" />
<line x1="1329.9" y1="1951.92" x2="1338.8" y2="1951.92" stroke="#000" stroke-width="4.6" stroke-linecap="butt" />
<line x1="1329.9" y1="1880.96" x2="1338.8" y2="1880.96" stroke="#000" stroke-width="4.6" stroke-linecap="butt" />
<line x1="1329.9" y1="1810" x2="1338.8" y2="1810" stroke="#000" stroke-width="4.6" stroke-linecap="butt" />
<line x1="1329.9" y1="2164.8" x2="1564" y2="2164.8" stroke="#000" stroke-width="4.6" stroke-linecap="butt" />
<line x1="1338.8" y1="2164.8" x2="1338.8" y2="2173.7" stroke="#000" stroke-width="4.6" stroke-linecap="butt" />
<line x1="1451.4" y1="2164.8" x2="1451.4" y2="2173.7" stroke="#000" stroke-width="4.6" stroke-linecap="butt" />
<line x1="1564" y1="2164.8" x2="1564" y2="2173.7" stroke="#000" stroke-width="4.6" stroke-linecap="butt" />
<text x="1296.73" y="2173.73" font-size="31.5" font-family='"Liberation Serif",serif'>0</text>
<text x="1280.98" y="2102.77" font-size="31.5" font-family='"Liberation Serif",serif'>20</text>
<text x="1280.98" y="2031.81" font-size="31.5" font-family='"Liberation Serif",serif'>40</text>
<text x="1280.98" y="1960.85" font-size="31.5" font-family='"Liberation Serif",serif'>60</text>
<text x="1280.98" y="1889.89" font-size="31.5" font-family='"Liberation Serif",serif'>80</text>
<text x="1265.23" y="1818.93" font-size="31.5" font-family='"Liberation Serif",serif'>100</text>
<text transform="translate(1360.97,2209.61) scale(1,0.9632)" font-size="30.19" font-family='"Liberation Serif",serif'>Place</text>
<text x="1447.21" y="2209.6" font-size="30.5" font-family='"Liberation Serif",serif'>Response</text>
<rect x="1458" y="1806.9" width="15" height="14.8" rx="1.5" fill="#fff" stroke="#000" stroke-width="4.4"/>
<rect x="1458.1" y="1861.1" width="14.9" height="14.2" fill="#000"/>
<text transform="translate(1479.47,1822.99) scale(1,1.0112)" font-size="30.58" font-family='"Liberation Serif",serif'>Controls</text>
<text transform="translate(1480.62,1877.76) scale(1,1.0389)" font-size="30.36" font-family='"Liberation Serif",serif'>pMBRT</text>
</svg>
</body></html>
